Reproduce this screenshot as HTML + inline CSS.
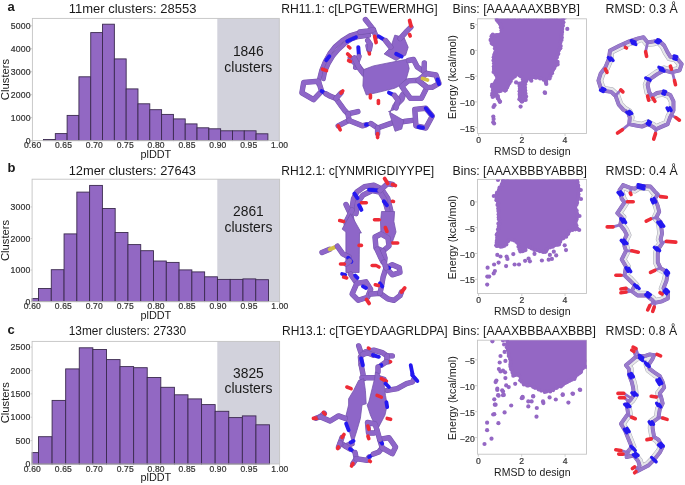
<!DOCTYPE html>
<html><head><meta charset="utf-8"><style>
html,body{margin:0;padding:0;background:#fff;width:685px;height:485px;overflow:hidden}
svg{display:block;font-family:"Liberation Sans", sans-serif;will-change:transform}
</style></head><body>
<svg width="685" height="485" viewBox="0 0 685 485" font-family="Liberation Sans, sans-serif"><rect x="217.30" y="18.40" width="62.00" height="122.20" fill="#d2d2dc" />
<rect x="43.50" y="139.50" width="11.81" height="1.10" fill="#9268c3" stroke="#3b2a4f" stroke-width="0.9" />
<rect x="55.31" y="133.60" width="11.81" height="7.00" fill="#9268c3" stroke="#3b2a4f" stroke-width="0.9" />
<rect x="67.12" y="115.40" width="11.81" height="25.20" fill="#9268c3" stroke="#3b2a4f" stroke-width="0.9" />
<rect x="78.93" y="76.80" width="11.81" height="63.80" fill="#9268c3" stroke="#3b2a4f" stroke-width="0.9" />
<rect x="90.74" y="32.60" width="11.81" height="108.00" fill="#9268c3" stroke="#3b2a4f" stroke-width="0.9" />
<rect x="102.55" y="24.20" width="11.81" height="116.40" fill="#9268c3" stroke="#3b2a4f" stroke-width="0.9" />
<rect x="114.36" y="58.90" width="11.81" height="81.70" fill="#9268c3" stroke="#3b2a4f" stroke-width="0.9" />
<rect x="126.17" y="88.90" width="11.81" height="51.70" fill="#9268c3" stroke="#3b2a4f" stroke-width="0.9" />
<rect x="137.98" y="103.80" width="11.81" height="36.80" fill="#9268c3" stroke="#3b2a4f" stroke-width="0.9" />
<rect x="149.79" y="109.70" width="11.81" height="30.90" fill="#9268c3" stroke="#3b2a4f" stroke-width="0.9" />
<rect x="161.60" y="114.40" width="11.81" height="26.20" fill="#9268c3" stroke="#3b2a4f" stroke-width="0.9" />
<rect x="173.41" y="118.90" width="11.81" height="21.70" fill="#9268c3" stroke="#3b2a4f" stroke-width="0.9" />
<rect x="185.22" y="123.90" width="11.81" height="16.70" fill="#9268c3" stroke="#3b2a4f" stroke-width="0.9" />
<rect x="197.03" y="127.80" width="11.81" height="12.80" fill="#9268c3" stroke="#3b2a4f" stroke-width="0.9" />
<rect x="208.84" y="128.80" width="11.81" height="11.80" fill="#9268c3" stroke="#3b2a4f" stroke-width="0.9" />
<rect x="220.65" y="130.80" width="11.81" height="9.80" fill="#9268c3" stroke="#3b2a4f" stroke-width="0.9" />
<rect x="232.46" y="130.80" width="11.81" height="9.80" fill="#9268c3" stroke="#3b2a4f" stroke-width="0.9" />
<rect x="244.27" y="130.80" width="11.81" height="9.80" fill="#9268c3" stroke="#3b2a4f" stroke-width="0.9" />
<rect x="256.08" y="133.80" width="11.81" height="6.80" fill="#9268c3" stroke="#3b2a4f" stroke-width="0.9" />
<rect x="32.40" y="18.40" width="246.90" height="122.20" fill="none" stroke="#c4c4c4" stroke-width="0.9"/>
<line x1="30.90" y1="140.60" x2="32.40" y2="140.60" stroke="#c4c4c4" stroke-width="0.8"/>
<text x="30.70" y="143.70" font-size="8.7" text-anchor="end" fill="#333333" letter-spacing="0.15" stroke="#333333" stroke-width="0.22">0</text>
<line x1="30.90" y1="117.64" x2="32.40" y2="117.64" stroke="#c4c4c4" stroke-width="0.8"/>
<text x="30.70" y="120.74" font-size="8.7" text-anchor="end" fill="#333333" letter-spacing="0.15" stroke="#333333" stroke-width="0.22">1000</text>
<line x1="30.90" y1="94.68" x2="32.40" y2="94.68" stroke="#c4c4c4" stroke-width="0.8"/>
<text x="30.70" y="97.78" font-size="8.7" text-anchor="end" fill="#333333" letter-spacing="0.15" stroke="#333333" stroke-width="0.22">2000</text>
<line x1="30.90" y1="71.72" x2="32.40" y2="71.72" stroke="#c4c4c4" stroke-width="0.8"/>
<text x="30.70" y="74.82" font-size="8.7" text-anchor="end" fill="#333333" letter-spacing="0.15" stroke="#333333" stroke-width="0.22">3000</text>
<line x1="30.90" y1="48.76" x2="32.40" y2="48.76" stroke="#c4c4c4" stroke-width="0.8"/>
<text x="30.70" y="51.86" font-size="8.7" text-anchor="end" fill="#333333" letter-spacing="0.15" stroke="#333333" stroke-width="0.22">4000</text>
<line x1="30.90" y1="25.80" x2="32.40" y2="25.80" stroke="#c4c4c4" stroke-width="0.8"/>
<text x="30.70" y="28.90" font-size="8.7" text-anchor="end" fill="#333333" letter-spacing="0.15" stroke="#333333" stroke-width="0.22">5000</text>
<line x1="32.40" y1="140.60" x2="32.40" y2="143.10" stroke="#c4c4c4" stroke-width="0.8"/>
<text x="32.70" y="148.30" font-size="8.5" text-anchor="middle" fill="#333333" letter-spacing="0.15" stroke="#333333" stroke-width="0.22">0.60</text>
<line x1="63.26" y1="140.60" x2="63.26" y2="143.10" stroke="#c4c4c4" stroke-width="0.8"/>
<text x="63.56" y="148.30" font-size="8.5" text-anchor="middle" fill="#333333" letter-spacing="0.15" stroke="#333333" stroke-width="0.22">0.65</text>
<line x1="94.12" y1="140.60" x2="94.12" y2="143.10" stroke="#c4c4c4" stroke-width="0.8"/>
<text x="94.42" y="148.30" font-size="8.5" text-anchor="middle" fill="#333333" letter-spacing="0.15" stroke="#333333" stroke-width="0.22">0.70</text>
<line x1="124.99" y1="140.60" x2="124.99" y2="143.10" stroke="#c4c4c4" stroke-width="0.8"/>
<text x="125.29" y="148.30" font-size="8.5" text-anchor="middle" fill="#333333" letter-spacing="0.15" stroke="#333333" stroke-width="0.22">0.75</text>
<line x1="155.85" y1="140.60" x2="155.85" y2="143.10" stroke="#c4c4c4" stroke-width="0.8"/>
<text x="156.15" y="148.30" font-size="8.5" text-anchor="middle" fill="#333333" letter-spacing="0.15" stroke="#333333" stroke-width="0.22">0.80</text>
<line x1="186.71" y1="140.60" x2="186.71" y2="143.10" stroke="#c4c4c4" stroke-width="0.8"/>
<text x="187.01" y="148.30" font-size="8.5" text-anchor="middle" fill="#333333" letter-spacing="0.15" stroke="#333333" stroke-width="0.22">0.85</text>
<line x1="217.58" y1="140.60" x2="217.58" y2="143.10" stroke="#c4c4c4" stroke-width="0.8"/>
<text x="217.88" y="148.30" font-size="8.5" text-anchor="middle" fill="#333333" letter-spacing="0.15" stroke="#333333" stroke-width="0.22">0.90</text>
<line x1="248.44" y1="140.60" x2="248.44" y2="143.10" stroke="#c4c4c4" stroke-width="0.8"/>
<text x="248.74" y="148.30" font-size="8.5" text-anchor="middle" fill="#333333" letter-spacing="0.15" stroke="#333333" stroke-width="0.22">0.95</text>
<line x1="279.30" y1="140.60" x2="279.30" y2="143.10" stroke="#c4c4c4" stroke-width="0.8"/>
<text x="279.60" y="148.30" font-size="8.5" text-anchor="middle" fill="#333333" letter-spacing="0.15" stroke="#333333" stroke-width="0.22">1.00</text>
<text x="155.85" y="157.70" font-size="10.6" text-anchor="middle" fill="#1a1a1a" textLength="30.8" lengthAdjust="spacingAndGlyphs" >plDDT</text>
<text x="8.60" y="79.50" font-size="11" text-anchor="middle" fill="#1a1a1a" transform="rotate(-90 8.60 79.50)" textLength="41.3" lengthAdjust="spacingAndGlyphs" >Clusters</text>
<text x="248.30" y="55.90" font-size="13.8" text-anchor="middle" fill="#1a1a1a" >1846</text>
<text x="248.30" y="71.50" font-size="13.9" text-anchor="middle" fill="#1a1a1a" >clusters</text>
<rect x="217.30" y="179.20" width="62.30" height="122.40" fill="#d2d2dc" />
<rect x="32.10" y="298.60" width="6.40" height="3.00" fill="#9268c3" stroke="#3b2a4f" stroke-width="0.9" />
<rect x="38.50" y="288.50" width="12.78" height="13.10" fill="#9268c3" stroke="#3b2a4f" stroke-width="0.9" />
<rect x="51.28" y="269.70" width="12.78" height="31.90" fill="#9268c3" stroke="#3b2a4f" stroke-width="0.9" />
<rect x="64.06" y="233.90" width="12.78" height="67.70" fill="#9268c3" stroke="#3b2a4f" stroke-width="0.9" />
<rect x="76.84" y="192.10" width="12.78" height="109.50" fill="#9268c3" stroke="#3b2a4f" stroke-width="0.9" />
<rect x="89.62" y="185.40" width="12.78" height="116.20" fill="#9268c3" stroke="#3b2a4f" stroke-width="0.9" />
<rect x="102.40" y="208.50" width="12.78" height="93.10" fill="#9268c3" stroke="#3b2a4f" stroke-width="0.9" />
<rect x="115.18" y="232.50" width="12.78" height="69.10" fill="#9268c3" stroke="#3b2a4f" stroke-width="0.9" />
<rect x="127.96" y="244.60" width="12.78" height="57.00" fill="#9268c3" stroke="#3b2a4f" stroke-width="0.9" />
<rect x="140.74" y="250.70" width="12.78" height="50.90" fill="#9268c3" stroke="#3b2a4f" stroke-width="0.9" />
<rect x="153.52" y="261.00" width="12.78" height="40.60" fill="#9268c3" stroke="#3b2a4f" stroke-width="0.9" />
<rect x="166.30" y="262.40" width="12.78" height="39.20" fill="#9268c3" stroke="#3b2a4f" stroke-width="0.9" />
<rect x="179.08" y="269.90" width="12.78" height="31.70" fill="#9268c3" stroke="#3b2a4f" stroke-width="0.9" />
<rect x="191.86" y="271.90" width="12.78" height="29.70" fill="#9268c3" stroke="#3b2a4f" stroke-width="0.9" />
<rect x="204.64" y="276.80" width="12.78" height="24.80" fill="#9268c3" stroke="#3b2a4f" stroke-width="0.9" />
<rect x="217.42" y="279.40" width="12.78" height="22.20" fill="#9268c3" stroke="#3b2a4f" stroke-width="0.9" />
<rect x="230.20" y="279.40" width="12.78" height="22.20" fill="#9268c3" stroke="#3b2a4f" stroke-width="0.9" />
<rect x="242.98" y="278.90" width="12.78" height="22.70" fill="#9268c3" stroke="#3b2a4f" stroke-width="0.9" />
<rect x="255.76" y="279.70" width="12.78" height="21.90" fill="#9268c3" stroke="#3b2a4f" stroke-width="0.9" />
<rect x="32.10" y="179.20" width="247.50" height="122.40" fill="none" stroke="#c4c4c4" stroke-width="0.9"/>
<line x1="30.60" y1="301.60" x2="32.10" y2="301.60" stroke="#c4c4c4" stroke-width="0.8"/>
<text x="30.40" y="304.70" font-size="8.7" text-anchor="end" fill="#333333" letter-spacing="0.15" stroke="#333333" stroke-width="0.22">0</text>
<line x1="30.60" y1="270.05" x2="32.10" y2="270.05" stroke="#c4c4c4" stroke-width="0.8"/>
<text x="30.40" y="273.15" font-size="8.7" text-anchor="end" fill="#333333" letter-spacing="0.15" stroke="#333333" stroke-width="0.22">1000</text>
<line x1="30.60" y1="238.50" x2="32.10" y2="238.50" stroke="#c4c4c4" stroke-width="0.8"/>
<text x="30.40" y="241.60" font-size="8.7" text-anchor="end" fill="#333333" letter-spacing="0.15" stroke="#333333" stroke-width="0.22">2000</text>
<line x1="30.60" y1="206.95" x2="32.10" y2="206.95" stroke="#c4c4c4" stroke-width="0.8"/>
<text x="30.40" y="210.05" font-size="8.7" text-anchor="end" fill="#333333" letter-spacing="0.15" stroke="#333333" stroke-width="0.22">3000</text>
<line x1="32.10" y1="301.60" x2="32.10" y2="304.10" stroke="#c4c4c4" stroke-width="0.8"/>
<text x="32.40" y="309.30" font-size="8.5" text-anchor="middle" fill="#333333" letter-spacing="0.15" stroke="#333333" stroke-width="0.22">0.60</text>
<line x1="63.04" y1="301.60" x2="63.04" y2="304.10" stroke="#c4c4c4" stroke-width="0.8"/>
<text x="63.34" y="309.30" font-size="8.5" text-anchor="middle" fill="#333333" letter-spacing="0.15" stroke="#333333" stroke-width="0.22">0.65</text>
<line x1="93.98" y1="301.60" x2="93.98" y2="304.10" stroke="#c4c4c4" stroke-width="0.8"/>
<text x="94.28" y="309.30" font-size="8.5" text-anchor="middle" fill="#333333" letter-spacing="0.15" stroke="#333333" stroke-width="0.22">0.70</text>
<line x1="124.91" y1="301.60" x2="124.91" y2="304.10" stroke="#c4c4c4" stroke-width="0.8"/>
<text x="125.21" y="309.30" font-size="8.5" text-anchor="middle" fill="#333333" letter-spacing="0.15" stroke="#333333" stroke-width="0.22">0.75</text>
<line x1="155.85" y1="301.60" x2="155.85" y2="304.10" stroke="#c4c4c4" stroke-width="0.8"/>
<text x="156.15" y="309.30" font-size="8.5" text-anchor="middle" fill="#333333" letter-spacing="0.15" stroke="#333333" stroke-width="0.22">0.80</text>
<line x1="186.79" y1="301.60" x2="186.79" y2="304.10" stroke="#c4c4c4" stroke-width="0.8"/>
<text x="187.09" y="309.30" font-size="8.5" text-anchor="middle" fill="#333333" letter-spacing="0.15" stroke="#333333" stroke-width="0.22">0.85</text>
<line x1="217.73" y1="301.60" x2="217.73" y2="304.10" stroke="#c4c4c4" stroke-width="0.8"/>
<text x="218.03" y="309.30" font-size="8.5" text-anchor="middle" fill="#333333" letter-spacing="0.15" stroke="#333333" stroke-width="0.22">0.90</text>
<line x1="248.66" y1="301.60" x2="248.66" y2="304.10" stroke="#c4c4c4" stroke-width="0.8"/>
<text x="248.96" y="309.30" font-size="8.5" text-anchor="middle" fill="#333333" letter-spacing="0.15" stroke="#333333" stroke-width="0.22">0.95</text>
<line x1="279.60" y1="301.60" x2="279.60" y2="304.10" stroke="#c4c4c4" stroke-width="0.8"/>
<text x="279.90" y="309.30" font-size="8.5" text-anchor="middle" fill="#333333" letter-spacing="0.15" stroke="#333333" stroke-width="0.22">1.00</text>
<text x="155.85" y="318.70" font-size="10.6" text-anchor="middle" fill="#1a1a1a" textLength="30.8" lengthAdjust="spacingAndGlyphs" >plDDT</text>
<text x="8.60" y="240.40" font-size="11" text-anchor="middle" fill="#1a1a1a" transform="rotate(-90 8.60 240.40)" textLength="41.3" lengthAdjust="spacingAndGlyphs" >Clusters</text>
<text x="248.45" y="216.10" font-size="13.8" text-anchor="middle" fill="#1a1a1a" >2861</text>
<text x="248.45" y="231.70" font-size="13.9" text-anchor="middle" fill="#1a1a1a" >clusters</text>
<rect x="217.30" y="341.40" width="62.30" height="122.60" fill="#d2d2dc" />
<rect x="32.10" y="452.60" width="6.40" height="11.40" fill="#9268c3" stroke="#3b2a4f" stroke-width="0.9" />
<rect x="38.50" y="436.70" width="13.59" height="27.30" fill="#9268c3" stroke="#3b2a4f" stroke-width="0.9" />
<rect x="52.09" y="400.40" width="13.59" height="63.60" fill="#9268c3" stroke="#3b2a4f" stroke-width="0.9" />
<rect x="65.68" y="368.90" width="13.59" height="95.10" fill="#9268c3" stroke="#3b2a4f" stroke-width="0.9" />
<rect x="79.27" y="347.80" width="13.59" height="116.20" fill="#9268c3" stroke="#3b2a4f" stroke-width="0.9" />
<rect x="92.86" y="349.50" width="13.59" height="114.50" fill="#9268c3" stroke="#3b2a4f" stroke-width="0.9" />
<rect x="106.45" y="359.60" width="13.59" height="104.40" fill="#9268c3" stroke="#3b2a4f" stroke-width="0.9" />
<rect x="120.04" y="366.60" width="13.59" height="97.40" fill="#9268c3" stroke="#3b2a4f" stroke-width="0.9" />
<rect x="133.63" y="367.70" width="13.59" height="96.30" fill="#9268c3" stroke="#3b2a4f" stroke-width="0.9" />
<rect x="147.22" y="377.50" width="13.59" height="86.50" fill="#9268c3" stroke="#3b2a4f" stroke-width="0.9" />
<rect x="160.81" y="387.30" width="13.59" height="76.70" fill="#9268c3" stroke="#3b2a4f" stroke-width="0.9" />
<rect x="174.40" y="394.80" width="13.59" height="69.20" fill="#9268c3" stroke="#3b2a4f" stroke-width="0.9" />
<rect x="187.99" y="398.90" width="13.59" height="65.10" fill="#9268c3" stroke="#3b2a4f" stroke-width="0.9" />
<rect x="201.58" y="404.60" width="13.59" height="59.40" fill="#9268c3" stroke="#3b2a4f" stroke-width="0.9" />
<rect x="215.17" y="411.30" width="13.59" height="52.70" fill="#9268c3" stroke="#3b2a4f" stroke-width="0.9" />
<rect x="228.76" y="417.60" width="13.59" height="46.40" fill="#9268c3" stroke="#3b2a4f" stroke-width="0.9" />
<rect x="242.35" y="415.90" width="13.59" height="48.10" fill="#9268c3" stroke="#3b2a4f" stroke-width="0.9" />
<rect x="255.94" y="424.80" width="13.59" height="39.20" fill="#9268c3" stroke="#3b2a4f" stroke-width="0.9" />
<rect x="32.10" y="341.40" width="247.50" height="122.60" fill="none" stroke="#c4c4c4" stroke-width="0.9"/>
<line x1="30.60" y1="464.00" x2="32.10" y2="464.00" stroke="#c4c4c4" stroke-width="0.8"/>
<text x="30.40" y="467.10" font-size="8.7" text-anchor="end" fill="#333333" letter-spacing="0.15" stroke="#333333" stroke-width="0.22">0</text>
<line x1="30.60" y1="440.62" x2="32.10" y2="440.62" stroke="#c4c4c4" stroke-width="0.8"/>
<text x="30.40" y="443.72" font-size="8.7" text-anchor="end" fill="#333333" letter-spacing="0.15" stroke="#333333" stroke-width="0.22">500</text>
<line x1="30.60" y1="417.24" x2="32.10" y2="417.24" stroke="#c4c4c4" stroke-width="0.8"/>
<text x="30.40" y="420.34" font-size="8.7" text-anchor="end" fill="#333333" letter-spacing="0.15" stroke="#333333" stroke-width="0.22">1000</text>
<line x1="30.60" y1="393.86" x2="32.10" y2="393.86" stroke="#c4c4c4" stroke-width="0.8"/>
<text x="30.40" y="396.96" font-size="8.7" text-anchor="end" fill="#333333" letter-spacing="0.15" stroke="#333333" stroke-width="0.22">1500</text>
<line x1="30.60" y1="370.48" x2="32.10" y2="370.48" stroke="#c4c4c4" stroke-width="0.8"/>
<text x="30.40" y="373.58" font-size="8.7" text-anchor="end" fill="#333333" letter-spacing="0.15" stroke="#333333" stroke-width="0.22">2000</text>
<line x1="30.60" y1="347.10" x2="32.10" y2="347.10" stroke="#c4c4c4" stroke-width="0.8"/>
<text x="30.40" y="350.20" font-size="8.7" text-anchor="end" fill="#333333" letter-spacing="0.15" stroke="#333333" stroke-width="0.22">2500</text>
<line x1="32.10" y1="464.00" x2="32.10" y2="466.50" stroke="#c4c4c4" stroke-width="0.8"/>
<text x="32.40" y="471.70" font-size="8.5" text-anchor="middle" fill="#333333" letter-spacing="0.15" stroke="#333333" stroke-width="0.22">0.60</text>
<line x1="63.04" y1="464.00" x2="63.04" y2="466.50" stroke="#c4c4c4" stroke-width="0.8"/>
<text x="63.34" y="471.70" font-size="8.5" text-anchor="middle" fill="#333333" letter-spacing="0.15" stroke="#333333" stroke-width="0.22">0.65</text>
<line x1="93.98" y1="464.00" x2="93.98" y2="466.50" stroke="#c4c4c4" stroke-width="0.8"/>
<text x="94.28" y="471.70" font-size="8.5" text-anchor="middle" fill="#333333" letter-spacing="0.15" stroke="#333333" stroke-width="0.22">0.70</text>
<line x1="124.91" y1="464.00" x2="124.91" y2="466.50" stroke="#c4c4c4" stroke-width="0.8"/>
<text x="125.21" y="471.70" font-size="8.5" text-anchor="middle" fill="#333333" letter-spacing="0.15" stroke="#333333" stroke-width="0.22">0.75</text>
<line x1="155.85" y1="464.00" x2="155.85" y2="466.50" stroke="#c4c4c4" stroke-width="0.8"/>
<text x="156.15" y="471.70" font-size="8.5" text-anchor="middle" fill="#333333" letter-spacing="0.15" stroke="#333333" stroke-width="0.22">0.80</text>
<line x1="186.79" y1="464.00" x2="186.79" y2="466.50" stroke="#c4c4c4" stroke-width="0.8"/>
<text x="187.09" y="471.70" font-size="8.5" text-anchor="middle" fill="#333333" letter-spacing="0.15" stroke="#333333" stroke-width="0.22">0.85</text>
<line x1="217.73" y1="464.00" x2="217.73" y2="466.50" stroke="#c4c4c4" stroke-width="0.8"/>
<text x="218.03" y="471.70" font-size="8.5" text-anchor="middle" fill="#333333" letter-spacing="0.15" stroke="#333333" stroke-width="0.22">0.90</text>
<line x1="248.66" y1="464.00" x2="248.66" y2="466.50" stroke="#c4c4c4" stroke-width="0.8"/>
<text x="248.96" y="471.70" font-size="8.5" text-anchor="middle" fill="#333333" letter-spacing="0.15" stroke="#333333" stroke-width="0.22">0.95</text>
<line x1="279.60" y1="464.00" x2="279.60" y2="466.50" stroke="#c4c4c4" stroke-width="0.8"/>
<text x="279.90" y="471.70" font-size="8.5" text-anchor="middle" fill="#333333" letter-spacing="0.15" stroke="#333333" stroke-width="0.22">1.00</text>
<text x="155.85" y="481.10" font-size="10.6" text-anchor="middle" fill="#1a1a1a" textLength="30.8" lengthAdjust="spacingAndGlyphs" >plDDT</text>
<text x="8.60" y="402.70" font-size="11" text-anchor="middle" fill="#1a1a1a" transform="rotate(-90 8.60 402.70)" textLength="41.3" lengthAdjust="spacingAndGlyphs" >Clusters</text>
<text x="248.45" y="377.70" font-size="13.8" text-anchor="middle" fill="#1a1a1a" >3825</text>
<text x="248.45" y="393.30" font-size="13.9" text-anchor="middle" fill="#1a1a1a" >clusters</text>
<text x="68.70" y="12.80" font-size="12" text-anchor="start" fill="#1a1a1a" textLength="127.7" lengthAdjust="spacingAndGlyphs" >11mer clusters: 28553</text>
<text x="281.20" y="12.80" font-size="12" text-anchor="start" fill="#1a1a1a" textLength="156.39999999999998" lengthAdjust="spacingAndGlyphs" >RH11.1: c[LPGTEWERMHG]</text>
<text x="452.50" y="12.80" font-size="12" text-anchor="start" fill="#1a1a1a" textLength="127.4" lengthAdjust="spacingAndGlyphs" >Bins: [AAAAAAXBBYB]</text>
<text x="605.60" y="12.80" font-size="12" text-anchor="start" fill="#1a1a1a" textLength="72.3" lengthAdjust="spacingAndGlyphs" >RMSD: 0.3 Å</text>
<text x="68.70" y="174.80" font-size="12" text-anchor="start" fill="#1a1a1a" textLength="127.3" lengthAdjust="spacingAndGlyphs" >12mer clusters: 27643</text>
<text x="281.20" y="174.80" font-size="12" text-anchor="start" fill="#1a1a1a" textLength="152.89999999999998" lengthAdjust="spacingAndGlyphs" >RH12.1: c[YNMRIGDIYYPE]</text>
<text x="452.50" y="174.80" font-size="12" text-anchor="start" fill="#1a1a1a" textLength="134.5" lengthAdjust="spacingAndGlyphs" >Bins: [AAAXBBBYABBB]</text>
<text x="605.60" y="174.80" font-size="12" text-anchor="start" fill="#1a1a1a" textLength="72.3" lengthAdjust="spacingAndGlyphs" >RMSD: 0.4 Å</text>
<text x="68.70" y="334.70" font-size="12" text-anchor="start" fill="#1a1a1a" textLength="117.5" lengthAdjust="spacingAndGlyphs" >13mer clusters: 27330</text>
<text x="282.00" y="334.70" font-size="12" text-anchor="start" fill="#1a1a1a" textLength="165.7" lengthAdjust="spacingAndGlyphs" >RH13.1: c[TGEYDAAGRLDPA]</text>
<text x="452.50" y="334.70" font-size="12" text-anchor="start" fill="#1a1a1a" textLength="143.39999999999998" lengthAdjust="spacingAndGlyphs" >Bins: [AAAXBBBAAXBBB]</text>
<text x="605.60" y="334.70" font-size="12" text-anchor="start" fill="#1a1a1a" textLength="71.5" lengthAdjust="spacingAndGlyphs" >RMSD: 0.8 Å</text>
<text x="7.60" y="10.70" font-size="13" text-anchor="start" fill="#1a1a1a" font-weight="bold" >a</text>
<text x="7.60" y="171.90" font-size="13" text-anchor="start" fill="#1a1a1a" font-weight="bold" >b</text>
<text x="7.60" y="334.00" font-size="13" text-anchor="start" fill="#1a1a1a" font-weight="bold" >c</text>
<rect x="477.50" y="18.80" width="109.00" height="114.70" fill="none" stroke="#c4c4c4" stroke-width="0.9"/>
<line x1="475.00" y1="24.70" x2="477.50" y2="24.70" stroke="#c4c4c4" stroke-width="0.8"/>
<text x="474.90" y="28.80" font-size="8.6" text-anchor="end" fill="#333333" letter-spacing="0.15" stroke="#333333" stroke-width="0.22">5</text>
<line x1="475.00" y1="50.40" x2="477.50" y2="50.40" stroke="#c4c4c4" stroke-width="0.8"/>
<text x="474.90" y="54.50" font-size="8.6" text-anchor="end" fill="#333333" letter-spacing="0.15" stroke="#333333" stroke-width="0.22">0</text>
<line x1="475.00" y1="76.10" x2="477.50" y2="76.10" stroke="#c4c4c4" stroke-width="0.8"/>
<text x="474.90" y="80.20" font-size="8.6" text-anchor="end" fill="#333333" letter-spacing="0.15" stroke="#333333" stroke-width="0.22">−5</text>
<line x1="475.00" y1="101.90" x2="477.50" y2="101.90" stroke="#c4c4c4" stroke-width="0.8"/>
<text x="474.90" y="106.00" font-size="8.6" text-anchor="end" fill="#333333" letter-spacing="0.15" stroke="#333333" stroke-width="0.22">−10</text>
<line x1="475.00" y1="127.70" x2="477.50" y2="127.70" stroke="#c4c4c4" stroke-width="0.8"/>
<text x="474.90" y="131.80" font-size="8.6" text-anchor="end" fill="#333333" letter-spacing="0.15" stroke="#333333" stroke-width="0.22">−15</text>
<line x1="478.60" y1="133.50" x2="478.60" y2="136.00" stroke="#c4c4c4" stroke-width="0.8"/>
<text x="478.60" y="143.20" font-size="8.6" text-anchor="middle" fill="#333333" stroke="#333333" stroke-width="0.22">0</text>
<line x1="521.80" y1="133.50" x2="521.80" y2="136.00" stroke="#c4c4c4" stroke-width="0.8"/>
<text x="521.80" y="143.20" font-size="8.6" text-anchor="middle" fill="#333333" stroke="#333333" stroke-width="0.22">2</text>
<line x1="565.00" y1="133.50" x2="565.00" y2="136.00" stroke="#c4c4c4" stroke-width="0.8"/>
<text x="565.00" y="143.20" font-size="8.6" text-anchor="middle" fill="#333333" stroke="#333333" stroke-width="0.22">4</text>
<text x="532.30" y="154.90" font-size="10.1" text-anchor="middle" fill="#1a1a1a" textLength="76.5" lengthAdjust="spacingAndGlyphs" >RMSD to design</text>
<text x="456.50" y="77.15" font-size="10.2" text-anchor="middle" fill="#1a1a1a" transform="rotate(-90 456.50 77.15)" textLength="84" lengthAdjust="spacingAndGlyphs" >Energy (kcal/mol)</text>
<rect x="477.50" y="179.40" width="109.00" height="114.10" fill="none" stroke="#c4c4c4" stroke-width="0.9"/>
<line x1="475.00" y1="201.90" x2="477.50" y2="201.90" stroke="#c4c4c4" stroke-width="0.8"/>
<text x="474.90" y="206.00" font-size="8.6" text-anchor="end" fill="#333333" letter-spacing="0.15" stroke="#333333" stroke-width="0.22">0</text>
<line x1="475.00" y1="227.70" x2="477.50" y2="227.70" stroke="#c4c4c4" stroke-width="0.8"/>
<text x="474.90" y="231.80" font-size="8.6" text-anchor="end" fill="#333333" letter-spacing="0.15" stroke="#333333" stroke-width="0.22">−5</text>
<line x1="475.00" y1="253.50" x2="477.50" y2="253.50" stroke="#c4c4c4" stroke-width="0.8"/>
<text x="474.90" y="257.60" font-size="8.6" text-anchor="end" fill="#333333" letter-spacing="0.15" stroke="#333333" stroke-width="0.22">−10</text>
<line x1="475.00" y1="279.30" x2="477.50" y2="279.30" stroke="#c4c4c4" stroke-width="0.8"/>
<text x="474.90" y="283.40" font-size="8.6" text-anchor="end" fill="#333333" letter-spacing="0.15" stroke="#333333" stroke-width="0.22">−15</text>
<line x1="478.60" y1="293.50" x2="478.60" y2="296.00" stroke="#c4c4c4" stroke-width="0.8"/>
<text x="478.60" y="303.20" font-size="8.6" text-anchor="middle" fill="#333333" stroke="#333333" stroke-width="0.22">0</text>
<line x1="521.80" y1="293.50" x2="521.80" y2="296.00" stroke="#c4c4c4" stroke-width="0.8"/>
<text x="521.80" y="303.20" font-size="8.6" text-anchor="middle" fill="#333333" stroke="#333333" stroke-width="0.22">2</text>
<line x1="565.00" y1="293.50" x2="565.00" y2="296.00" stroke="#c4c4c4" stroke-width="0.8"/>
<text x="565.00" y="303.20" font-size="8.6" text-anchor="middle" fill="#333333" stroke="#333333" stroke-width="0.22">4</text>
<text x="532.30" y="314.90" font-size="10.1" text-anchor="middle" fill="#1a1a1a" textLength="76.5" lengthAdjust="spacingAndGlyphs" >RMSD to design</text>
<text x="456.50" y="237.45" font-size="10.2" text-anchor="middle" fill="#1a1a1a" transform="rotate(-90 456.50 237.45)" textLength="84" lengthAdjust="spacingAndGlyphs" >Energy (kcal/mol)</text>
<rect x="477.50" y="340.20" width="109.00" height="114.00" fill="none" stroke="#c4c4c4" stroke-width="0.9"/>
<line x1="475.00" y1="359.80" x2="477.50" y2="359.80" stroke="#c4c4c4" stroke-width="0.8"/>
<text x="474.90" y="363.90" font-size="8.6" text-anchor="end" fill="#333333" letter-spacing="0.15" stroke="#333333" stroke-width="0.22">−5</text>
<line x1="475.00" y1="385.70" x2="477.50" y2="385.70" stroke="#c4c4c4" stroke-width="0.8"/>
<text x="474.90" y="389.80" font-size="8.6" text-anchor="end" fill="#333333" letter-spacing="0.15" stroke="#333333" stroke-width="0.22">−10</text>
<line x1="475.00" y1="411.70" x2="477.50" y2="411.70" stroke="#c4c4c4" stroke-width="0.8"/>
<text x="474.90" y="415.80" font-size="8.6" text-anchor="end" fill="#333333" letter-spacing="0.15" stroke="#333333" stroke-width="0.22">−15</text>
<line x1="475.00" y1="437.60" x2="477.50" y2="437.60" stroke="#c4c4c4" stroke-width="0.8"/>
<text x="474.90" y="441.70" font-size="8.6" text-anchor="end" fill="#333333" letter-spacing="0.15" stroke="#333333" stroke-width="0.22">−20</text>
<line x1="478.30" y1="454.20" x2="478.30" y2="456.70" stroke="#c4c4c4" stroke-width="0.8"/>
<text x="478.30" y="463.90" font-size="8.6" text-anchor="middle" fill="#333333" stroke="#333333" stroke-width="0.22">0</text>
<line x1="521.70" y1="454.20" x2="521.70" y2="456.70" stroke="#c4c4c4" stroke-width="0.8"/>
<text x="521.70" y="463.90" font-size="8.6" text-anchor="middle" fill="#333333" stroke="#333333" stroke-width="0.22">2</text>
<line x1="565.10" y1="454.20" x2="565.10" y2="456.70" stroke="#c4c4c4" stroke-width="0.8"/>
<text x="565.10" y="463.90" font-size="8.6" text-anchor="middle" fill="#333333" stroke="#333333" stroke-width="0.22">4</text>
<text x="532.30" y="475.60" font-size="10.1" text-anchor="middle" fill="#1a1a1a" textLength="76.5" lengthAdjust="spacingAndGlyphs" >RMSD to design</text>
<text x="456.50" y="398.20" font-size="10.2" text-anchor="middle" fill="#1a1a1a" transform="rotate(-90 456.50 398.20)" textLength="84" lengthAdjust="spacingAndGlyphs" >Energy (kcal/mol)</text>
<polyline points="372.0,31.5 360.0,32.5 350.0,35.5 342.0,40.5 335.0,46.5 329.5,53.5 325.0,61.5 321.5,70.0 319.5,78.0 318.5,84.0" fill="none" stroke="#7554ad" stroke-width="4.5" stroke-linecap="round" stroke-linejoin="round"/><polyline points="372.0,31.5 360.0,32.5 350.0,35.5 342.0,40.5 335.0,46.5 329.5,53.5 325.0,61.5 321.5,70.0 319.5,78.0 318.5,84.0" fill="none" stroke="#8e66c8" stroke-width="3.6" stroke-linecap="round" stroke-linejoin="round"/><polyline points="369.0,35.5 358.0,37.0 351.0,39.5 344.5,44.0 338.5,49.5 333.0,56.0 328.5,63.5 325.0,71.5 323.5,79.0" fill="none" stroke="#7554ad" stroke-width="4.5" stroke-linecap="round" stroke-linejoin="round"/><polyline points="369.0,35.5 358.0,37.0 351.0,39.5 344.5,44.0 338.5,49.5 333.0,56.0 328.5,63.5 325.0,71.5 323.5,79.0" fill="none" stroke="#8e66c8" stroke-width="3.6" stroke-linecap="round" stroke-linejoin="round"/><polyline points="347.2,41.2 356.0,37.3" fill="none" stroke="#2418f0" stroke-width="3.8" stroke-linecap="round" stroke-linejoin="round"/><polyline points="326.2,60.2 329.4,56.2" fill="none" stroke="#2418f0" stroke-width="3.8" stroke-linecap="round" stroke-linejoin="round"/><polyline points="322.5,69.2 326.5,70.6" fill="none" stroke="#ee2b36" stroke-width="3.6" stroke-linecap="round" stroke-linejoin="round"/><polyline points="348.3,46.5 350.0,48.0" fill="none" stroke="#ee2b36" stroke-width="3.4" stroke-linecap="round" stroke-linejoin="round"/><polyline points="358.3,47.2 359.0,56.5" fill="none" stroke="#2418f0" stroke-width="4.0" stroke-linecap="round" stroke-linejoin="round"/><polyline points="359.0,56.5 357.0,61.9 355.7,67.3" fill="none" stroke="#7554ad" stroke-width="5.4" stroke-linecap="round" stroke-linejoin="round"/><polyline points="359.0,56.5 357.0,61.9 355.7,67.3" fill="none" stroke="#8e66c8" stroke-width="4.5" stroke-linecap="round" stroke-linejoin="round"/><polyline points="350.3,57.9 353.0,61.2 358.3,65.9 362.4,71.3 365.0,74.0" fill="none" stroke="#7554ad" stroke-width="5.4" stroke-linecap="round" stroke-linejoin="round"/><polyline points="350.3,57.9 353.0,61.2 358.3,65.9 362.4,71.3 365.0,74.0" fill="none" stroke="#8e66c8" stroke-width="4.5" stroke-linecap="round" stroke-linejoin="round"/><polyline points="347.6,53.9 350.3,56.5" fill="none" stroke="#ee2b36" stroke-width="3.6" stroke-linecap="round" stroke-linejoin="round"/><polyline points="348.6,60.6 350.5,61.5" fill="none" stroke="#ee2b36" stroke-width="3.6" stroke-linecap="round" stroke-linejoin="round"/><polyline points="354.3,57.9 359.6,68.6 363.7,73.9 370.4,79.3" fill="none" stroke="#7554ad" stroke-width="5.4" stroke-linecap="round" stroke-linejoin="round"/><polyline points="354.3,57.9 359.6,68.6 363.7,73.9 370.4,79.3" fill="none" stroke="#8e66c8" stroke-width="4.5" stroke-linecap="round" stroke-linejoin="round"/><polygon points="303.7,82.4 318.5,81.2 321.6,91.1 313.6,99.7 301.9,92.9" fill="none" stroke="#7554ad" stroke-width="5.4" stroke-linejoin="round"/><polygon points="303.7,82.4 318.5,81.2 321.6,91.1 313.6,99.7 301.9,92.9" fill="none" stroke="#8e66c8" stroke-width="4.5" stroke-linejoin="round"/><polyline points="321.6,91.1 326.0,93.8" fill="none" stroke="#2418f0" stroke-width="4.0" stroke-linecap="round" stroke-linejoin="round"/><polyline points="326.0,93.8 330.5,96.3 336.0,98.5 341.5,106.1 344.7,110.5 348.0,113.8 357.9,111.6" fill="none" stroke="#7554ad" stroke-width="5.4" stroke-linecap="round" stroke-linejoin="round"/><polyline points="326.0,93.8 330.5,96.3 336.0,98.5 341.5,106.1 344.7,110.5 348.0,113.8 357.9,111.6" fill="none" stroke="#8e66c8" stroke-width="4.5" stroke-linecap="round" stroke-linejoin="round"/><polyline points="336.0,98.5 341.0,93.0" fill="none" stroke="#7554ad" stroke-width="5.4" stroke-linecap="round" stroke-linejoin="round"/><polyline points="336.0,98.5 341.0,93.0" fill="none" stroke="#8e66c8" stroke-width="4.5" stroke-linecap="round" stroke-linejoin="round"/><polyline points="341.0,93.0 342.8,90.8" fill="none" stroke="#ee2b36" stroke-width="3.6" stroke-linecap="round" stroke-linejoin="round"/><polyline points="348.0,113.8 349.1,120.4 338.2,125.8" fill="none" stroke="#7554ad" stroke-width="5.4" stroke-linecap="round" stroke-linejoin="round"/><polyline points="348.0,113.8 349.1,120.4 338.2,125.8" fill="none" stroke="#8e66c8" stroke-width="4.5" stroke-linecap="round" stroke-linejoin="round"/><polyline points="338.2,125.8 340.2,129.8" fill="none" stroke="#ee2b36" stroke-width="3.6" stroke-linecap="round" stroke-linejoin="round"/><polyline points="349.1,120.4 362.3,125.8 366.0,124.8" fill="none" stroke="#7554ad" stroke-width="5.4" stroke-linecap="round" stroke-linejoin="round"/><polyline points="349.1,120.4 362.3,125.8 366.0,124.8" fill="none" stroke="#8e66c8" stroke-width="4.5" stroke-linecap="round" stroke-linejoin="round"/><polyline points="366.0,124.8 371.0,123.6" fill="none" stroke="#2418f0" stroke-width="4.0" stroke-linecap="round" stroke-linejoin="round"/><polyline points="371.0,123.6 377.6,128.0 392.9,122.6 403.9,121.5 412.6,120.4" fill="none" stroke="#7554ad" stroke-width="5.4" stroke-linecap="round" stroke-linejoin="round"/><polyline points="371.0,123.6 377.6,128.0 392.9,122.6 403.9,121.5 412.6,120.4" fill="none" stroke="#8e66c8" stroke-width="4.5" stroke-linecap="round" stroke-linejoin="round"/><polyline points="377.6,128.0 377.6,133.5" fill="none" stroke="#7554ad" stroke-width="5.4" stroke-linecap="round" stroke-linejoin="round"/><polyline points="377.6,128.0 377.6,133.5" fill="none" stroke="#8e66c8" stroke-width="4.5" stroke-linecap="round" stroke-linejoin="round"/><polyline points="377.6,133.5 377.6,137.6" fill="none" stroke="#ee2b36" stroke-width="3.6" stroke-linecap="round" stroke-linejoin="round"/><polygon points="414.8,109.4 425.8,108.3 432.3,116.0 425.8,128.0 415.9,125.8" fill="none" stroke="#7554ad" stroke-width="5.4" stroke-linejoin="round"/><polygon points="414.8,109.4 425.8,108.3 432.3,116.0 425.8,128.0 415.9,125.8" fill="none" stroke="#8e66c8" stroke-width="4.5" stroke-linejoin="round"/><polyline points="425.8,108.3 432.3,116.0" fill="none" stroke="#2418f0" stroke-width="4.0" stroke-linecap="round" stroke-linejoin="round"/><polyline points="418.5,127.0 423.0,127.8" fill="none" stroke="#2418f0" stroke-width="4.0" stroke-linecap="round" stroke-linejoin="round"/><polygon points="388.5,111.6 395.1,109.4 403.9,100.7 406.0,94.1 401.7,91.9 397.3,98.5 392.9,105.0 389.6,113.8 395.1,131.3 401.7,129.1 403.9,120.4" fill="#8e66c8" stroke="#7554ad" stroke-width="0.8" stroke-linejoin="round"/><polygon points="363.7,69.6 373.4,65.9 386.8,63.2 400.2,60.6 406.9,59.2 409.2,68.6 406.0,80.0 400.0,85.5 394.5,88.3 378.4,92.3 366.3,95.0 362.9,86.0" fill="#8e66c8" stroke="#7554ad" stroke-width="0.8" stroke-linejoin="round"/><polygon points="384.1,53.9 390.8,47.2 394.8,35.1 404.2,37.8 408.2,47.2 405.6,55.2 400.2,57.9 396.2,60.6" fill="#8e66c8" stroke="#7554ad" stroke-width="0.8" stroke-linejoin="round"/><polyline points="396.2,53.9 401.5,56.5" fill="none" stroke="#2418f0" stroke-width="4.0" stroke-linecap="round" stroke-linejoin="round"/><polyline points="400.2,38.5 406.9,31.1 410.9,27.1" fill="none" stroke="#7554ad" stroke-width="5.4" stroke-linecap="round" stroke-linejoin="round"/><polyline points="400.2,38.5 406.9,31.1 410.9,27.1" fill="none" stroke="#8e66c8" stroke-width="4.5" stroke-linecap="round" stroke-linejoin="round"/><polyline points="409.6,20.5 411.0,26.0" fill="none" stroke="#ee2b36" stroke-width="3.8" stroke-linecap="round" stroke-linejoin="round"/><polyline points="409.6,34.5 410.2,36.0" fill="none" stroke="#ee2b36" stroke-width="3.6" stroke-linecap="round" stroke-linejoin="round"/><polyline points="365.4,19.5 373.4,29.7 376.1,36.4" fill="none" stroke="#7554ad" stroke-width="5.4" stroke-linecap="round" stroke-linejoin="round"/><polyline points="365.4,19.5 373.4,29.7 376.1,36.4" fill="none" stroke="#8e66c8" stroke-width="4.5" stroke-linecap="round" stroke-linejoin="round"/><polyline points="374.7,36.4 376.1,42.5" fill="none" stroke="#ee2b36" stroke-width="3.8" stroke-linecap="round" stroke-linejoin="round"/><polyline points="360.0,32.0 368.0,31.0 373.4,29.7" fill="none" stroke="#7554ad" stroke-width="5.4" stroke-linecap="round" stroke-linejoin="round"/><polyline points="360.0,32.0 368.0,31.0 373.4,29.7" fill="none" stroke="#8e66c8" stroke-width="4.5" stroke-linecap="round" stroke-linejoin="round"/><polyline points="368.0,45.8 369.0,50.0" fill="none" stroke="#7554ad" stroke-width="5.4" stroke-linecap="round" stroke-linejoin="round"/><polyline points="368.0,45.8 369.0,50.0" fill="none" stroke="#8e66c8" stroke-width="4.5" stroke-linecap="round" stroke-linejoin="round"/><polyline points="369.0,50.0 369.4,53.9" fill="none" stroke="#ee2b36" stroke-width="3.6" stroke-linecap="round" stroke-linejoin="round"/><polyline points="378.8,36.4 385.5,40.5" fill="none" stroke="#2418f0" stroke-width="4.0" stroke-linecap="round" stroke-linejoin="round"/><polyline points="385.5,40.5 390.8,47.2" fill="none" stroke="#7554ad" stroke-width="5.4" stroke-linecap="round" stroke-linejoin="round"/><polyline points="385.5,40.5 390.8,47.2" fill="none" stroke="#8e66c8" stroke-width="4.5" stroke-linecap="round" stroke-linejoin="round"/><polyline points="367.7,40.4 370.4,44.5 369.5,49.0" fill="none" stroke="#7554ad" stroke-width="5.4" stroke-linecap="round" stroke-linejoin="round"/><polyline points="367.7,40.4 370.4,44.5 369.5,49.0" fill="none" stroke="#8e66c8" stroke-width="4.5" stroke-linecap="round" stroke-linejoin="round"/><polyline points="408.5,60.5 413.5,59.5 417.3,66.9 424.0,71.5 426.5,73.5" fill="none" stroke="#7554ad" stroke-width="5.4" stroke-linecap="round" stroke-linejoin="round"/><polyline points="408.5,60.5 413.5,59.5 417.3,66.9 424.0,71.5 426.5,73.5" fill="none" stroke="#8e66c8" stroke-width="4.5" stroke-linecap="round" stroke-linejoin="round"/><polyline points="424.0,71.5 424.3,62.9" fill="none" stroke="#7554ad" stroke-width="5.4" stroke-linecap="round" stroke-linejoin="round"/><polyline points="424.0,71.5 424.3,62.9" fill="none" stroke="#8e66c8" stroke-width="4.5" stroke-linecap="round" stroke-linejoin="round"/><polygon points="401.7,86.3 408.2,80.9 418.2,80.3 426.9,87.4 421.4,98.4 410.4,98.4" fill="none" stroke="#7554ad" stroke-width="5.4" stroke-linejoin="round"/><polygon points="401.7,86.3 408.2,80.9 418.2,80.3 426.9,87.4 421.4,98.4 410.4,98.4" fill="none" stroke="#8e66c8" stroke-width="4.5" stroke-linejoin="round"/><polygon points="418.2,80.3 426.5,73.5 436.0,75.0 439.0,83.5 432.0,87.4 426.9,87.4" fill="none" stroke="#7554ad" stroke-width="5.4" stroke-linejoin="round"/><polygon points="418.2,80.3 426.5,73.5 436.0,75.0 439.0,83.5 432.0,87.4 426.9,87.4" fill="none" stroke="#8e66c8" stroke-width="4.5" stroke-linejoin="round"/><polyline points="437.5,79.5 439.0,84.0" fill="none" stroke="#2418f0" stroke-width="4.0" stroke-linecap="round" stroke-linejoin="round"/><polyline points="422.5,78.5 427.5,80.0" fill="none" stroke="#d4bf45" stroke-width="3.8" stroke-linecap="round" stroke-linejoin="round"/><polyline points="370.4,95.0 370.4,98.0" fill="none" stroke="#ee2b36" stroke-width="3.6" stroke-linecap="round" stroke-linejoin="round"/><polyline points="378.4,100.5 378.4,103.4" fill="none" stroke="#ee2b36" stroke-width="3.6" stroke-linecap="round" stroke-linejoin="round"/><polyline points="389.0,92.7 394.5,95.4" fill="none" stroke="#2418f0" stroke-width="4.0" stroke-linecap="round" stroke-linejoin="round"/><polyline points="394.5,95.4 398.0,100.0 396.0,108.0" fill="none" stroke="#7554ad" stroke-width="5.4" stroke-linecap="round" stroke-linejoin="round"/><polyline points="394.5,95.4 398.0,100.0 396.0,108.0" fill="none" stroke="#8e66c8" stroke-width="4.5" stroke-linecap="round" stroke-linejoin="round"/>
<polyline points="352.1,207.9 353.5,199.0 356.8,192.0 364.5,186.6 373.8,185.1 381.5,188.9 387.7,198.2 390.8,210.6" fill="none" stroke="#7554ad" stroke-width="5.4" stroke-linecap="round" stroke-linejoin="round"/><polyline points="352.1,207.9 353.5,199.0 356.8,192.0 364.5,186.6 373.8,185.1 381.5,188.9 387.7,198.2 390.8,210.6" fill="none" stroke="#8e66c8" stroke-width="4.5" stroke-linecap="round" stroke-linejoin="round"/><polyline points="356.0,213.7 357.5,202.8 362.9,195.1 372.2,190.5 379.9,192.0 384.6,199.7 387.7,210.6" fill="none" stroke="#7554ad" stroke-width="5.4" stroke-linecap="round" stroke-linejoin="round"/><polyline points="356.0,213.7 357.5,202.8 362.9,195.1 372.2,190.5 379.9,192.0 384.6,199.7 387.7,210.6" fill="none" stroke="#8e66c8" stroke-width="4.5" stroke-linecap="round" stroke-linejoin="round"/><polyline points="369.1,189.7 378.4,190.5" fill="none" stroke="#2418f0" stroke-width="4.0" stroke-linecap="round" stroke-linejoin="round"/><polyline points="354.4,193.6 357.5,198.2" fill="none" stroke="#2418f0" stroke-width="4.0" stroke-linecap="round" stroke-linejoin="round"/><polyline points="359.1,205.2 361.4,209.8" fill="none" stroke="#2418f0" stroke-width="4.0" stroke-linecap="round" stroke-linejoin="round"/><polyline points="383.8,201.3 386.9,205.2" fill="none" stroke="#2418f0" stroke-width="4.0" stroke-linecap="round" stroke-linejoin="round"/><polyline points="380.0,190.5 387.7,183.5 392.5,184.5" fill="none" stroke="#7554ad" stroke-width="5.4" stroke-linecap="round" stroke-linejoin="round"/><polyline points="380.0,190.5 387.7,183.5 392.5,184.5" fill="none" stroke="#8e66c8" stroke-width="4.5" stroke-linecap="round" stroke-linejoin="round"/><polyline points="392.5,184.5 395.4,185.5" fill="none" stroke="#ee2b36" stroke-width="3.8" stroke-linecap="round" stroke-linejoin="round"/><polyline points="387.7,183.5 384.6,178.6" fill="none" stroke="#ee2b36" stroke-width="3.8" stroke-linecap="round" stroke-linejoin="round"/><polyline points="361.4,202.8 366.3,202.8" fill="none" stroke="#ee2b36" stroke-width="3.6" stroke-linecap="round" stroke-linejoin="round"/><polyline points="392.3,201.3 393.5,201.5" fill="none" stroke="#ee2b36" stroke-width="3.6" stroke-linecap="round" stroke-linejoin="round"/><polyline points="346.0,204.5 351.0,215.0 352.0,222.0" fill="none" stroke="#7554ad" stroke-width="5.4" stroke-linecap="round" stroke-linejoin="round"/><polyline points="346.0,204.5 351.0,215.0 352.0,222.0" fill="none" stroke="#8e66c8" stroke-width="4.5" stroke-linecap="round" stroke-linejoin="round"/><polyline points="352.0,210.0 346.0,222.0 347.0,228.0" fill="none" stroke="#7554ad" stroke-width="5.4" stroke-linecap="round" stroke-linejoin="round"/><polyline points="352.0,210.0 346.0,222.0 347.0,228.0" fill="none" stroke="#8e66c8" stroke-width="4.5" stroke-linecap="round" stroke-linejoin="round"/><polygon points="342.1,229.1 350.6,213.7 361.4,233.0 359.5,233.0 359.1,272.5 345.9,272.5 345.9,232.0" fill="#8e66c8" stroke="#7554ad" stroke-width="0.8" stroke-linejoin="round"/><polyline points="339.7,220.6 343.6,221.4" fill="none" stroke="#ee2b36" stroke-width="3.6" stroke-linecap="round" stroke-linejoin="round"/><polyline points="359.1,245.4 361.4,245.4" fill="none" stroke="#ee2b36" stroke-width="3.6" stroke-linecap="round" stroke-linejoin="round"/><polygon points="381.5,211.5 394.6,211.5 393.9,221.4 396.0,232.0 392.0,243.0 388.0,236.0 381.0,236.0 380.5,222.0" fill="#8e66c8" stroke="#7554ad" stroke-width="0.8" stroke-linejoin="round"/><polyline points="374.5,219.8 379.2,219.8" fill="none" stroke="#ee2b36" stroke-width="3.6" stroke-linecap="round" stroke-linejoin="round"/><polyline points="385.4,227.6 386.9,231.4" fill="none" stroke="#ee2b36" stroke-width="3.8" stroke-linecap="round" stroke-linejoin="round"/><polyline points="392.3,243.0 397.7,243.0" fill="none" stroke="#ee2b36" stroke-width="3.6" stroke-linecap="round" stroke-linejoin="round"/><polygon points="375.0,237.0 381.0,234.0 388.0,238.0 389.0,246.0 383.0,251.0 376.0,248.0" fill="none" stroke="#7554ad" stroke-width="5.4" stroke-linejoin="round"/><polygon points="375.0,237.0 381.0,234.0 388.0,238.0 389.0,246.0 383.0,251.0 376.0,248.0" fill="none" stroke="#8e66c8" stroke-width="4.5" stroke-linejoin="round"/><polyline points="383.0,251.0 385.0,258.0 384.6,262.0" fill="none" stroke="#7554ad" stroke-width="5.4" stroke-linecap="round" stroke-linejoin="round"/><polyline points="383.0,251.0 385.0,258.0 384.6,262.0" fill="none" stroke="#8e66c8" stroke-width="4.5" stroke-linecap="round" stroke-linejoin="round"/><polyline points="377.0,249.3 380.0,256.0 383.0,262.0" fill="none" stroke="#7554ad" stroke-width="5.4" stroke-linecap="round" stroke-linejoin="round"/><polyline points="377.0,249.3 380.0,256.0 383.0,262.0" fill="none" stroke="#8e66c8" stroke-width="4.5" stroke-linecap="round" stroke-linejoin="round"/><polyline points="322.0,252.4 329.7,249.3" fill="none" stroke="#7554ad" stroke-width="5.4" stroke-linecap="round" stroke-linejoin="round"/><polyline points="322.0,252.4 329.7,249.3" fill="none" stroke="#8e66c8" stroke-width="4.5" stroke-linecap="round" stroke-linejoin="round"/><polyline points="329.7,249.3 337.4,246.2" fill="none" stroke="#d4bf45" stroke-width="4.0" stroke-linecap="round" stroke-linejoin="round"/><polyline points="337.4,246.2 342.8,253.9 349.0,257.0" fill="none" stroke="#7554ad" stroke-width="5.4" stroke-linecap="round" stroke-linejoin="round"/><polyline points="337.4,246.2 342.8,253.9 349.0,257.0" fill="none" stroke="#8e66c8" stroke-width="4.5" stroke-linecap="round" stroke-linejoin="round"/><polyline points="348.2,257.8 351.3,261.6" fill="none" stroke="#2418f0" stroke-width="4.0" stroke-linecap="round" stroke-linejoin="round"/><polyline points="349.5,261.0 346.0,264.0" fill="none" stroke="#7554ad" stroke-width="5.4" stroke-linecap="round" stroke-linejoin="round"/><polyline points="349.5,261.0 346.0,264.0" fill="none" stroke="#8e66c8" stroke-width="4.5" stroke-linecap="round" stroke-linejoin="round"/><polyline points="340.5,264.0 344.4,264.0" fill="none" stroke="#ee2b36" stroke-width="3.6" stroke-linecap="round" stroke-linejoin="round"/><polyline points="342.1,274.0 345.2,274.8" fill="none" stroke="#2418f0" stroke-width="3.8" stroke-linecap="round" stroke-linejoin="round"/><polyline points="343.6,277.1 346.7,277.9" fill="none" stroke="#ee2b36" stroke-width="3.6" stroke-linecap="round" stroke-linejoin="round"/><polyline points="350.5,274.0 356.8,283.3" fill="none" stroke="#7554ad" stroke-width="5.4" stroke-linecap="round" stroke-linejoin="round"/><polyline points="350.5,274.0 356.8,283.3" fill="none" stroke="#8e66c8" stroke-width="4.5" stroke-linecap="round" stroke-linejoin="round"/><polyline points="355.2,275.6 357.5,277.9" fill="none" stroke="#2418f0" stroke-width="3.8" stroke-linecap="round" stroke-linejoin="round"/><polygon points="356.8,283.3 366.0,281.8 370.7,289.5 367.6,297.2 358.3,300.3 352.1,294.1" fill="none" stroke="#7554ad" stroke-width="5.4" stroke-linejoin="round"/><polygon points="356.8,283.3 366.0,281.8 370.7,289.5 367.6,297.2 358.3,300.3 352.1,294.1" fill="none" stroke="#8e66c8" stroke-width="4.5" stroke-linejoin="round"/><polyline points="362.9,286.4 366.0,288.0" fill="none" stroke="#2418f0" stroke-width="3.8" stroke-linecap="round" stroke-linejoin="round"/><polyline points="366.5,299.5 369.1,303.4" fill="none" stroke="#ee2b36" stroke-width="3.8" stroke-linecap="round" stroke-linejoin="round"/><polyline points="370.7,294.1 380.0,293.3 387.7,298.8 393.9,300.3 400.0,295.7 401.5,292.0" fill="none" stroke="#7554ad" stroke-width="5.4" stroke-linecap="round" stroke-linejoin="round"/><polyline points="370.7,294.1 380.0,293.3 387.7,298.8 393.9,300.3 400.0,295.7 401.5,292.0" fill="none" stroke="#8e66c8" stroke-width="4.5" stroke-linecap="round" stroke-linejoin="round"/><polyline points="401.5,292.0 404.7,288.0" fill="none" stroke="#ee2b36" stroke-width="3.8" stroke-linecap="round" stroke-linejoin="round"/><polyline points="380.0,293.3 381.5,286.4 383.1,277.1 386.1,267.8" fill="none" stroke="#7554ad" stroke-width="5.4" stroke-linecap="round" stroke-linejoin="round"/><polyline points="380.0,293.3 381.5,286.4 383.1,277.1 386.1,267.8" fill="none" stroke="#8e66c8" stroke-width="4.5" stroke-linecap="round" stroke-linejoin="round"/><polyline points="379.9,283.3 382.3,286.4" fill="none" stroke="#2418f0" stroke-width="3.8" stroke-linecap="round" stroke-linejoin="round"/><polyline points="375.3,284.8 378.4,285.6" fill="none" stroke="#ee2b36" stroke-width="3.6" stroke-linecap="round" stroke-linejoin="round"/><polygon points="386.1,267.8 392.3,264.7 399.3,267.8 400.0,272.5 392.3,274.8" fill="none" stroke="#7554ad" stroke-width="5.4" stroke-linejoin="round"/><polygon points="386.1,267.8 392.3,264.7 399.3,267.8 400.0,272.5 392.3,274.8" fill="none" stroke="#8e66c8" stroke-width="4.5" stroke-linejoin="round"/><polyline points="384.6,266.3 389.2,267.8" fill="none" stroke="#2418f0" stroke-width="3.8" stroke-linecap="round" stroke-linejoin="round"/><polyline points="384.0,262.0 386.1,267.8" fill="none" stroke="#7554ad" stroke-width="5.4" stroke-linecap="round" stroke-linejoin="round"/><polyline points="384.0,262.0 386.1,267.8" fill="none" stroke="#8e66c8" stroke-width="4.5" stroke-linecap="round" stroke-linejoin="round"/><polyline points="372.2,265.5 376.1,265.5" fill="none" stroke="#ee2b36" stroke-width="3.6" stroke-linecap="round" stroke-linejoin="round"/><polyline points="378.0,266.5 379.0,267.0" fill="none" stroke="#ee2b36" stroke-width="3.6" stroke-linecap="round" stroke-linejoin="round"/>
<polyline points="358.7,345.9 361.2,353.4" fill="none" stroke="#7554ad" stroke-width="5.4" stroke-linecap="round" stroke-linejoin="round"/><polyline points="358.7,345.9 361.2,353.4" fill="none" stroke="#8e66c8" stroke-width="4.5" stroke-linecap="round" stroke-linejoin="round"/><polyline points="361.2,365.2 360.4,356.8 365.4,351.8 373.8,350.1 382.2,352.6 387.2,355.9 392.3,355.9" fill="none" stroke="#7554ad" stroke-width="5.4" stroke-linecap="round" stroke-linejoin="round"/><polyline points="361.2,365.2 360.4,356.8 365.4,351.8 373.8,350.1 382.2,352.6 387.2,355.9 392.3,355.9" fill="none" stroke="#8e66c8" stroke-width="4.5" stroke-linecap="round" stroke-linejoin="round"/><polyline points="362.5,354.5 368.0,353.0 373.0,355.1" fill="none" stroke="#7554ad" stroke-width="5.4" stroke-linecap="round" stroke-linejoin="round"/><polyline points="362.5,354.5 368.0,353.0 373.0,355.1" fill="none" stroke="#8e66c8" stroke-width="4.5" stroke-linecap="round" stroke-linejoin="round"/><polyline points="368.3,347.9 369.3,348.4" fill="none" stroke="#ee2b36" stroke-width="3.4" stroke-linecap="round" stroke-linejoin="round"/><polyline points="373.0,355.1 378.8,356.8" fill="none" stroke="#2418f0" stroke-width="4.0" stroke-linecap="round" stroke-linejoin="round"/><polyline points="387.2,355.9 386.4,361.8 388.5,361.8" fill="none" stroke="#7554ad" stroke-width="5.4" stroke-linecap="round" stroke-linejoin="round"/><polyline points="387.2,355.9 386.4,361.8 388.5,361.8" fill="none" stroke="#8e66c8" stroke-width="4.5" stroke-linecap="round" stroke-linejoin="round"/><polyline points="388.5,361.8 390.6,361.8" fill="none" stroke="#ee2b36" stroke-width="3.6" stroke-linecap="round" stroke-linejoin="round"/><polyline points="386.4,361.8 381.3,365.2" fill="none" stroke="#7554ad" stroke-width="5.4" stroke-linecap="round" stroke-linejoin="round"/><polyline points="386.4,361.8 381.3,365.2" fill="none" stroke="#8e66c8" stroke-width="4.5" stroke-linecap="round" stroke-linejoin="round"/><polyline points="381.3,365.2 378.0,366.9" fill="none" stroke="#2418f0" stroke-width="4.0" stroke-linecap="round" stroke-linejoin="round"/><polyline points="378.0,366.9 378.0,371.9" fill="none" stroke="#7554ad" stroke-width="5.4" stroke-linecap="round" stroke-linejoin="round"/><polyline points="378.0,366.9 378.0,371.9" fill="none" stroke="#8e66c8" stroke-width="4.5" stroke-linecap="round" stroke-linejoin="round"/><polyline points="361.2,365.2 362.9,373.6 363.7,378.6" fill="none" stroke="#7554ad" stroke-width="5.4" stroke-linecap="round" stroke-linejoin="round"/><polyline points="361.2,365.2 362.9,373.6 363.7,378.6" fill="none" stroke="#8e66c8" stroke-width="4.5" stroke-linecap="round" stroke-linejoin="round"/><polyline points="361.2,358.5 362.9,365.2" fill="none" stroke="#2418f0" stroke-width="4.0" stroke-linecap="round" stroke-linejoin="round"/><polyline points="362.0,377.8 378.8,377.8 383.9,379.4" fill="none" stroke="#7554ad" stroke-width="5.4" stroke-linecap="round" stroke-linejoin="round"/><polyline points="362.0,377.8 378.8,377.8 383.9,379.4" fill="none" stroke="#8e66c8" stroke-width="4.5" stroke-linecap="round" stroke-linejoin="round"/><polyline points="387.2,390.4 397.3,388.7 406.5,383.6 412.4,382.0 414.0,379.0" fill="none" stroke="#7554ad" stroke-width="5.4" stroke-linecap="round" stroke-linejoin="round"/><polyline points="387.2,390.4 397.3,388.7 406.5,383.6 412.4,382.0 414.0,379.0" fill="none" stroke="#8e66c8" stroke-width="4.5" stroke-linecap="round" stroke-linejoin="round"/><polyline points="410.7,365.2 412.4,373.6" fill="none" stroke="#2418f0" stroke-width="3.8" stroke-linecap="round" stroke-linejoin="round"/><polyline points="412.4,375.3 417.4,381.1" fill="none" stroke="#2418f0" stroke-width="3.8" stroke-linecap="round" stroke-linejoin="round"/><polyline points="412.4,373.6 412.4,375.3" fill="none" stroke="#2418f0" stroke-width="3.8" stroke-linecap="round" stroke-linejoin="round"/><polygon points="358.7,380.3 363.7,378.6 365.4,390.4 366.2,403.8 362.0,405.0 360.4,418.4 357.0,430.2 353.6,441.0 352.0,441.0 348.6,428.5 345.3,418.4 348.6,405.0 348.6,398.8 353.6,390.4" fill="#8e66c8" stroke="#7554ad" stroke-width="0.8" stroke-linejoin="round"/><polyline points="346.9,387.0 351.1,388.7" fill="none" stroke="#ee2b36" stroke-width="3.6" stroke-linecap="round" stroke-linejoin="round"/><polyline points="346.1,423.5 348.6,430.2" fill="none" stroke="#2418f0" stroke-width="3.8" stroke-linecap="round" stroke-linejoin="round"/><polygon points="375.5,371.9 378.8,373.6 383.9,383.6 385.5,395.4 387.2,405.0 385.0,415.0 377.1,430.2 370.4,415.0 367.1,405.0 368.8,402.1 372.1,388.7 374.6,378.6" fill="#8e66c8" stroke="#7554ad" stroke-width="0.8" stroke-linejoin="round"/><polyline points="381.3,378.6 386.4,381.1" fill="none" stroke="#ee2b36" stroke-width="3.6" stroke-linecap="round" stroke-linejoin="round"/><polyline points="377.1,395.4 381.3,397.1" fill="none" stroke="#ee2b36" stroke-width="3.6" stroke-linecap="round" stroke-linejoin="round"/><polyline points="386.4,402.1 387.2,407.1" fill="none" stroke="#2418f0" stroke-width="3.8" stroke-linecap="round" stroke-linejoin="round"/><polyline points="385.5,383.6 388.9,387.0" fill="none" stroke="#2418f0" stroke-width="3.8" stroke-linecap="round" stroke-linejoin="round"/><polyline points="387.2,418.4 390.6,419.3" fill="none" stroke="#ee2b36" stroke-width="3.6" stroke-linecap="round" stroke-linejoin="round"/><polyline points="316.0,418.2 320.1,416.8 324.3,413.4" fill="none" stroke="#7554ad" stroke-width="5.4" stroke-linecap="round" stroke-linejoin="round"/><polyline points="316.0,418.2 320.1,416.8 324.3,413.4" fill="none" stroke="#8e66c8" stroke-width="4.5" stroke-linecap="round" stroke-linejoin="round"/><polyline points="313.4,418.4 317.0,418.1" fill="none" stroke="#ee2b36" stroke-width="3.6" stroke-linecap="round" stroke-linejoin="round"/><polyline points="323.4,412.4 325.1,414.2" fill="none" stroke="#ee2b36" stroke-width="3.6" stroke-linecap="round" stroke-linejoin="round"/><polyline points="320.1,416.8 330.1,421.0 338.5,415.9 345.3,418.4" fill="none" stroke="#7554ad" stroke-width="5.4" stroke-linecap="round" stroke-linejoin="round"/><polyline points="320.1,416.8 330.1,421.0 338.5,415.9 345.3,418.4" fill="none" stroke="#8e66c8" stroke-width="4.5" stroke-linecap="round" stroke-linejoin="round"/><polyline points="352.0,443.6 345.3,446.1 340.2,442.8 342.0,437.5" fill="none" stroke="#7554ad" stroke-width="5.4" stroke-linecap="round" stroke-linejoin="round"/><polyline points="352.0,443.6 345.3,446.1 340.2,442.8 342.0,437.5" fill="none" stroke="#8e66c8" stroke-width="4.5" stroke-linecap="round" stroke-linejoin="round"/><polyline points="342.0,437.5 344.0,434.4" fill="none" stroke="#ee2b36" stroke-width="3.6" stroke-linecap="round" stroke-linejoin="round"/><polyline points="340.2,442.8 338.5,447.0" fill="none" stroke="#7554ad" stroke-width="5.4" stroke-linecap="round" stroke-linejoin="round"/><polyline points="340.2,442.8 338.5,447.0" fill="none" stroke="#8e66c8" stroke-width="4.5" stroke-linecap="round" stroke-linejoin="round"/><polyline points="338.5,447.0 337.6,448.5" fill="none" stroke="#ee2b36" stroke-width="3.6" stroke-linecap="round" stroke-linejoin="round"/><polyline points="350.5,442.5 353.5,441.0" fill="none" stroke="#2418f0" stroke-width="3.8" stroke-linecap="round" stroke-linejoin="round"/><polyline points="345.3,446.1 350.0,449.0" fill="none" stroke="#7554ad" stroke-width="5.4" stroke-linecap="round" stroke-linejoin="round"/><polyline points="345.3,446.1 350.0,449.0" fill="none" stroke="#8e66c8" stroke-width="4.5" stroke-linecap="round" stroke-linejoin="round"/><polyline points="350.0,449.0 355.0,452.5" fill="none" stroke="#2418f0" stroke-width="3.8" stroke-linecap="round" stroke-linejoin="round"/><polyline points="355.0,452.5 355.3,453.7 356.2,458.7 353.0,463.5" fill="none" stroke="#7554ad" stroke-width="5.4" stroke-linecap="round" stroke-linejoin="round"/><polyline points="355.0,452.5 355.3,453.7 356.2,458.7 353.0,463.5" fill="none" stroke="#8e66c8" stroke-width="4.5" stroke-linecap="round" stroke-linejoin="round"/><polyline points="353.0,463.5 351.5,466.0" fill="none" stroke="#ee2b36" stroke-width="3.6" stroke-linecap="round" stroke-linejoin="round"/><polyline points="356.2,458.7 367.1,460.4 369.0,457.0" fill="none" stroke="#7554ad" stroke-width="5.4" stroke-linecap="round" stroke-linejoin="round"/><polyline points="356.2,458.7 367.1,460.4 369.0,457.0" fill="none" stroke="#8e66c8" stroke-width="4.5" stroke-linecap="round" stroke-linejoin="round"/><polyline points="369.5,461.0 370.4,461.5" fill="none" stroke="#ee2b36" stroke-width="3.6" stroke-linecap="round" stroke-linejoin="round"/><polyline points="369.0,457.0 373.5,454.0" fill="none" stroke="#2418f0" stroke-width="3.8" stroke-linecap="round" stroke-linejoin="round"/><polyline points="373.5,454.0 378.8,452.0 382.2,447.8" fill="none" stroke="#7554ad" stroke-width="5.4" stroke-linecap="round" stroke-linejoin="round"/><polyline points="373.5,454.0 378.8,452.0 382.2,447.8" fill="none" stroke="#8e66c8" stroke-width="4.5" stroke-linecap="round" stroke-linejoin="round"/><polygon points="379.7,439.4 388.9,437.7 395.6,447.0 392.3,453.7 382.2,447.8" fill="none" stroke="#7554ad" stroke-width="5.4" stroke-linejoin="round"/><polygon points="379.7,439.4 388.9,437.7 395.6,447.0 392.3,453.7 382.2,447.8" fill="none" stroke="#8e66c8" stroke-width="4.5" stroke-linejoin="round"/><polyline points="378.8,438.6 382.2,443.6" fill="none" stroke="#2418f0" stroke-width="3.8" stroke-linecap="round" stroke-linejoin="round"/><polyline points="379.7,439.4 377.1,430.2 375.0,424.0 367.5,422.5 368.5,433.0 374.0,433.0" fill="none" stroke="#7554ad" stroke-width="5.4" stroke-linecap="round" stroke-linejoin="round"/><polyline points="379.7,439.4 377.1,430.2 375.0,424.0 367.5,422.5 368.5,433.0 374.0,433.0" fill="none" stroke="#8e66c8" stroke-width="4.5" stroke-linecap="round" stroke-linejoin="round"/><polyline points="367.9,426.0 368.8,429.3" fill="none" stroke="#ee2b36" stroke-width="3.6" stroke-linecap="round" stroke-linejoin="round"/><polyline points="367.9,436.1 368.8,438.6" fill="none" stroke="#ee2b36" stroke-width="3.6" stroke-linecap="round" stroke-linejoin="round"/>
<polyline points="612.0,52.3 621.0,47.9 630.1,43.9 639.2,40.9 642.4,39.7 646.6,44.9 654.3,44.1 658.0,42.8 662.0,47.1 664.9,53.0 668.9,59.0 675.0,60.2 679.1,64.8 677.9,68.2 671.4,69.6 663.8,67.6 655.5,72.1 647.7,77.7 644.9,84.6 646.6,92.8 651.4,98.8 657.8,95.5 662.7,94.6 668.6,97.0 670.9,101.9 670.9,109.9 667.5,116.5 665.7,122.3 660.8,124.1 656.0,126.5 654.0,124.3 647.9,121.4 641.7,123.9 635.5,122.7 631.4,122.6 632.5,117.3 630.1,110.8 625.1,107.8 621.1,103.4 617.9,94.6 612.2,89.4 605.1,88.4 603.0,86.5 601.1,80.6 603.1,74.6 607.7,68.5 611.4,59.6 612.0,52.3" fill="none" stroke="#aaaab4" stroke-width="4.2" stroke-linecap="round" stroke-linejoin="round"/><polyline points="612.0,52.3 621.0,47.9 630.1,43.9 639.2,40.9 642.4,39.7 646.6,44.9 654.3,44.1 658.0,42.8 662.0,47.1 664.9,53.0 668.9,59.0 675.0,60.2 679.1,64.8 677.9,68.2 671.4,69.6 663.8,67.6 655.5,72.1 647.7,77.7 644.9,84.6 646.6,92.8 651.4,98.8 657.8,95.5 662.7,94.6 668.6,97.0 670.9,101.9 670.9,109.9 667.5,116.5 665.7,122.3 660.8,124.1 656.0,126.5 654.0,124.3 647.9,121.4 641.7,123.9 635.5,122.7 631.4,122.6 632.5,117.3 630.1,110.8 625.1,107.8 621.1,103.4 617.9,94.6 612.2,89.4 605.1,88.4 603.0,86.5 601.1,80.6 603.1,74.6 607.7,68.5 611.4,59.6 612.0,52.3" fill="none" stroke="#e6e6ea" stroke-width="3.2" stroke-linecap="round" stroke-linejoin="round"/><polyline points="610.0,50.6 619.8,45.5 629.1,41.4 638.4,38.3 643.5,37.2 647.6,42.4 653.8,41.4 659.0,40.3 664.2,45.5 667.3,51.7 670.4,56.8 676.5,57.9 681.7,64.1 679.6,70.3 671.4,72.3 664.2,70.3 656.9,74.4 649.7,79.5 647.6,84.7 649.1,91.9 651.8,96.1 656.9,93.0 663.1,91.9 670.4,95.0 673.5,101.3 673.5,110.5 670.0,117.6 667.7,124.1 661.9,126.6 656.0,129.2 652.6,126.6 647.9,124.1 642.0,126.6 635.0,125.3 629.2,124.1 629.8,117.6 628.0,112.5 623.4,109.9 618.7,104.7 615.6,96.0 611.1,91.9 604.1,90.9 600.7,87.8 598.4,80.6 600.7,73.4 605.4,67.2 608.8,58.9 610.0,50.6" fill="none" stroke="#7c5db3" stroke-width="3.9" stroke-linecap="round" stroke-linejoin="round"/><polyline points="610.0,50.6 619.8,45.5 629.1,41.4 638.4,38.3 643.5,37.2 647.6,42.4 653.8,41.4 659.0,40.3 664.2,45.5 667.3,51.7 670.4,56.8 676.5,57.9 681.7,64.1 679.6,70.3 671.4,72.3 664.2,70.3 656.9,74.4 649.7,79.5 647.6,84.7 649.1,91.9 651.8,96.1 656.9,93.0 663.1,91.9 670.4,95.0 673.5,101.3 673.5,110.5 670.0,117.6 667.7,124.1 661.9,126.6 656.0,129.2 652.6,126.6 647.9,124.1 642.0,126.6 635.0,125.3 629.2,124.1 629.8,117.6 628.0,112.5 623.4,109.9 618.7,104.7 615.6,96.0 611.1,91.9 604.1,90.9 600.7,87.8 598.4,80.6 600.7,73.4 605.4,67.2 608.8,58.9 610.0,50.6" fill="none" stroke="#9a7ccc" stroke-width="3.3" stroke-linecap="round" stroke-linejoin="round"/><line x1="647.6" y1="42.4" x2="645.6" y2="51.7" stroke="#9271c9" stroke-width="2.8" stroke-linecap="round"/><line x1="670.6" y1="72.1" x2="671.4" y2="69.2" stroke="#9271c9" stroke-width="2.8" stroke-linecap="round"/><line x1="672.4" y1="72.1" x2="674.5" y2="80.6" stroke="#9271c9" stroke-width="2.8" stroke-linecap="round"/><line x1="650.6" y1="94.2" x2="647.6" y2="96.1" stroke="#9271c9" stroke-width="2.8" stroke-linecap="round"/><line x1="651.8" y1="96.1" x2="652.8" y2="98.1" stroke="#9271c9" stroke-width="2.8" stroke-linecap="round"/><line x1="604.4" y1="68.5" x2="605.4" y2="69.2" stroke="#9271c9" stroke-width="2.8" stroke-linecap="round"/><line x1="615.4" y1="95.8" x2="620.8" y2="89.9" stroke="#9271c9" stroke-width="2.8" stroke-linecap="round"/><line x1="623.8" y1="43.7" x2="625.5" y2="47.5" stroke="#9271c9" stroke-width="2.8" stroke-linecap="round"/><line x1="629.2" y1="124.1" x2="622.4" y2="129.7" stroke="#9271c9" stroke-width="2.8" stroke-linecap="round"/><line x1="656.0" y1="129.2" x2="655.5" y2="133.6" stroke="#9271c9" stroke-width="2.8" stroke-linecap="round"/><line x1="671.1" y1="115.3" x2="675.9" y2="117.6" stroke="#9271c9" stroke-width="2.8" stroke-linecap="round"/><line x1="645.6" y1="51.7" x2="646.6" y2="56.3" stroke="#ee2b36" stroke-width="3.6" stroke-linecap="round"/><line x1="670.4" y1="66.1" x2="671.4" y2="69.2" stroke="#ee2b36" stroke-width="3.6" stroke-linecap="round"/><line x1="674.5" y1="80.6" x2="675.5" y2="84.7" stroke="#ee2b36" stroke-width="3.6" stroke-linecap="round"/><line x1="647.6" y1="96.1" x2="648.7" y2="100.2" stroke="#ee2b36" stroke-width="3.6" stroke-linecap="round"/><line x1="652.8" y1="98.1" x2="654.9" y2="101.3" stroke="#ee2b36" stroke-width="3.6" stroke-linecap="round"/><line x1="605.4" y1="69.2" x2="607.0" y2="72.3" stroke="#ee2b36" stroke-width="3.6" stroke-linecap="round"/><line x1="620.8" y1="89.9" x2="622.9" y2="91.9" stroke="#ee2b36" stroke-width="3.6" stroke-linecap="round"/><line x1="625.5" y1="47.5" x2="626.5" y2="48.0" stroke="#ee2b36" stroke-width="3.6" stroke-linecap="round"/><line x1="617.5" y1="133.0" x2="622.4" y2="129.7" stroke="#ee2b36" stroke-width="3.6" stroke-linecap="round"/><line x1="653.7" y1="139.1" x2="655.5" y2="133.6" stroke="#ee2b36" stroke-width="3.6" stroke-linecap="round"/><line x1="675.9" y1="117.6" x2="679.4" y2="120.2" stroke="#ee2b36" stroke-width="3.6" stroke-linecap="round"/><line x1="632.2" y1="43.3" x2="635.9" y2="44.5" stroke="#2418f0" stroke-width="3.3" stroke-linecap="round"/><line x1="631.3" y1="40.7" x2="635.1" y2="42.0" stroke="#2418f0" stroke-width="3.4" stroke-linecap="round"/><line x1="655.8" y1="41.6" x2="658.4" y2="42.9" stroke="#2418f0" stroke-width="3.3" stroke-linecap="round"/><line x1="657.7" y1="39.7" x2="660.3" y2="41.0" stroke="#2418f0" stroke-width="3.4" stroke-linecap="round"/><line x1="673.8" y1="58.7" x2="676.3" y2="59.3" stroke="#2418f0" stroke-width="3.3" stroke-linecap="round"/><line x1="674.2" y1="56.0" x2="676.8" y2="56.6" stroke="#2418f0" stroke-width="3.4" stroke-linecap="round"/><line x1="658.9" y1="67.3" x2="662.6" y2="68.5" stroke="#2418f0" stroke-width="3.3" stroke-linecap="round"/><line x1="660.2" y1="69.6" x2="664.0" y2="70.9" stroke="#2418f0" stroke-width="3.4" stroke-linecap="round"/><line x1="645.7" y1="77.9" x2="647.6" y2="79.2" stroke="#2418f0" stroke-width="3.3" stroke-linecap="round"/><line x1="648.2" y1="78.9" x2="650.1" y2="80.2" stroke="#2418f0" stroke-width="3.4" stroke-linecap="round"/><line x1="662.7" y1="93.6" x2="664.5" y2="94.2" stroke="#2418f0" stroke-width="3.3" stroke-linecap="round"/><line x1="663.7" y1="91.1" x2="665.6" y2="91.7" stroke="#2418f0" stroke-width="3.4" stroke-linecap="round"/><line x1="667.0" y1="107.9" x2="668.4" y2="110.4" stroke="#2418f0" stroke-width="3.3" stroke-linecap="round"/><line x1="669.7" y1="107.9" x2="671.1" y2="110.4" stroke="#2418f0" stroke-width="3.4" stroke-linecap="round"/><line x1="611.0" y1="58.0" x2="613.1" y2="60.5" stroke="#2418f0" stroke-width="3.3" stroke-linecap="round"/><line x1="608.3" y1="57.6" x2="610.4" y2="60.2" stroke="#2418f0" stroke-width="3.4" stroke-linecap="round"/><line x1="602.3" y1="88.3" x2="605.0" y2="89.5" stroke="#2418f0" stroke-width="3.3" stroke-linecap="round"/><line x1="600.5" y1="90.3" x2="603.2" y2="91.5" stroke="#2418f0" stroke-width="3.4" stroke-linecap="round"/><line x1="629.4" y1="111.3" x2="631.8" y2="113.4" stroke="#2418f0" stroke-width="3.3" stroke-linecap="round"/><line x1="626.8" y1="112.2" x2="629.3" y2="114.3" stroke="#2418f0" stroke-width="3.4" stroke-linecap="round"/><line x1="648.5" y1="121.1" x2="650.5" y2="122.4" stroke="#2418f0" stroke-width="3.3" stroke-linecap="round"/><line x1="647.2" y1="123.5" x2="649.2" y2="124.8" stroke="#2418f0" stroke-width="3.4" stroke-linecap="round"/>
<polyline points="623.6,187.7 622.2,190.4 624.2,197.8 627.2,202.8 622.4,210.4 620.0,212.7 624.3,216.8 622.8,224.2 626.8,229.0 629.4,235.1 626.5,241.1 627.1,245.8 628.6,251.4 624.4,259.4 628.7,266.2 627.1,274.7 630.8,277.8 637.3,284.7 634.4,290.5 638.3,292.9 647.0,292.9 653.7,297.8 655.3,300.1 661.2,298.7 665.7,296.9 665.4,293.8 660.8,288.6 663.8,280.4 665.4,273.5 658.7,270.0 655.1,262.8 655.1,253.4 656.7,246.9 659.4,243.1 657.9,239.2 659.4,233.4 658.1,222.8 653.6,217.9 656.5,211.5 655.2,206.8 652.2,198.8 655.1,194.4 652.9,193.4 649.6,189.0 639.4,188.5 635.3,191.3 629.5,190.5 623.6,187.7" fill="none" stroke="#aaaab4" stroke-width="4.2" stroke-linecap="round" stroke-linejoin="round"/><polyline points="623.6,187.7 622.2,190.4 624.2,197.8 627.2,202.8 622.4,210.4 620.0,212.7 624.3,216.8 622.8,224.2 626.8,229.0 629.4,235.1 626.5,241.1 627.1,245.8 628.6,251.4 624.4,259.4 628.7,266.2 627.1,274.7 630.8,277.8 637.3,284.7 634.4,290.5 638.3,292.9 647.0,292.9 653.7,297.8 655.3,300.1 661.2,298.7 665.7,296.9 665.4,293.8 660.8,288.6 663.8,280.4 665.4,273.5 658.7,270.0 655.1,262.8 655.1,253.4 656.7,246.9 659.4,243.1 657.9,239.2 659.4,233.4 658.1,222.8 653.6,217.9 656.5,211.5 655.2,206.8 652.2,198.8 655.1,194.4 652.9,193.4 649.6,189.0 639.4,188.5 635.3,191.3 629.5,190.5 623.6,187.7" fill="none" stroke="#e6e6ea" stroke-width="3.2" stroke-linecap="round" stroke-linejoin="round"/><polyline points="623.1,185.1 619.5,190.1 621.7,198.8 624.5,202.4 620.2,208.9 617.3,213.2 621.7,217.5 620.2,224.8 624.5,230.5 626.7,234.9 623.8,240.6 624.5,246.4 626.0,250.8 621.7,259.4 626.0,266.7 624.5,275.3 628.9,279.7 634.7,285.4 631.8,291.2 637.5,295.5 646.2,295.5 652.0,299.9 654.9,302.8 662.1,301.3 667.9,298.4 667.9,292.7 663.5,288.3 666.4,281.1 667.9,272.4 660.6,268.1 657.8,262.3 657.8,253.7 659.2,247.9 662.1,243.5 660.6,239.2 662.1,233.4 660.6,221.9 656.3,217.5 659.2,211.8 657.8,206.0 654.9,198.8 657.8,194.4 654.9,191.6 650.5,186.5 639.0,185.8 634.7,188.7 630.3,187.9 623.1,185.1" fill="none" stroke="#7c5db3" stroke-width="3.9" stroke-linecap="round" stroke-linejoin="round"/><polyline points="623.1,185.1 619.5,190.1 621.7,198.8 624.5,202.4 620.2,208.9 617.3,213.2 621.7,217.5 620.2,224.8 624.5,230.5 626.7,234.9 623.8,240.6 624.5,246.4 626.0,250.8 621.7,259.4 626.0,266.7 624.5,275.3 628.9,279.7 634.7,285.4 631.8,291.2 637.5,295.5 646.2,295.5 652.0,299.9 654.9,302.8 662.1,301.3 667.9,298.4 667.9,292.7 663.5,288.3 666.4,281.1 667.9,272.4 660.6,268.1 657.8,262.3 657.8,253.7 659.2,247.9 662.1,243.5 660.6,239.2 662.1,233.4 660.6,221.9 656.3,217.5 659.2,211.8 657.8,206.0 654.9,198.8 657.8,194.4 654.9,191.6 650.5,186.5 639.0,185.8 634.7,188.7 630.3,187.9 623.1,185.1" fill="none" stroke="#9a7ccc" stroke-width="3.3" stroke-linecap="round" stroke-linejoin="round"/><line x1="631.2" y1="188.1" x2="630.3" y2="193.2" stroke="#9271c9" stroke-width="2.8" stroke-linecap="round"/><line x1="624.5" y1="202.4" x2="627.4" y2="201.7" stroke="#9271c9" stroke-width="2.8" stroke-linecap="round"/><line x1="657.6" y1="194.6" x2="660.6" y2="196.6" stroke="#9271c9" stroke-width="2.8" stroke-linecap="round"/><line x1="656.3" y1="217.5" x2="650.5" y2="219.0" stroke="#9271c9" stroke-width="2.8" stroke-linecap="round"/><line x1="620.2" y1="224.8" x2="613.0" y2="226.9" stroke="#9271c9" stroke-width="2.8" stroke-linecap="round"/><line x1="661.9" y1="243.0" x2="666.4" y2="241.4" stroke="#9271c9" stroke-width="2.8" stroke-linecap="round"/><line x1="626.0" y1="250.8" x2="631.8" y2="250.8" stroke="#9271c9" stroke-width="2.8" stroke-linecap="round"/><line x1="624.5" y1="275.3" x2="620.9" y2="275.3" stroke="#9271c9" stroke-width="2.8" stroke-linecap="round"/><line x1="631.8" y1="291.2" x2="626.0" y2="288.3" stroke="#9271c9" stroke-width="2.8" stroke-linecap="round"/><line x1="631.8" y1="291.2" x2="626.0" y2="292.0" stroke="#9271c9" stroke-width="2.8" stroke-linecap="round"/><line x1="660.4" y1="267.7" x2="654.9" y2="270.3" stroke="#9271c9" stroke-width="2.8" stroke-linecap="round"/><line x1="665.7" y1="290.5" x2="662.1" y2="294.1" stroke="#9271c9" stroke-width="2.8" stroke-linecap="round"/><line x1="653.8" y1="301.7" x2="649.8" y2="305.6" stroke="#9271c9" stroke-width="2.8" stroke-linecap="round"/><line x1="654.9" y1="302.8" x2="654.2" y2="307.1" stroke="#9271c9" stroke-width="2.8" stroke-linecap="round"/><line x1="630.3" y1="193.2" x2="631.0" y2="194.5" stroke="#ee2b36" stroke-width="3.6" stroke-linecap="round"/><line x1="627.4" y1="201.7" x2="633.2" y2="201.7" stroke="#ee2b36" stroke-width="3.6" stroke-linecap="round"/><line x1="660.6" y1="196.6" x2="666.4" y2="197.3" stroke="#ee2b36" stroke-width="3.6" stroke-linecap="round"/><line x1="646.2" y1="221.2" x2="650.5" y2="219.0" stroke="#ee2b36" stroke-width="3.6" stroke-linecap="round"/><line x1="607.2" y1="226.9" x2="613.0" y2="226.9" stroke="#ee2b36" stroke-width="3.6" stroke-linecap="round"/><line x1="666.4" y1="241.4" x2="675.8" y2="242.1" stroke="#ee2b36" stroke-width="3.6" stroke-linecap="round"/><line x1="631.8" y1="250.8" x2="638.3" y2="252.2" stroke="#ee2b36" stroke-width="3.6" stroke-linecap="round"/><line x1="615.9" y1="275.3" x2="620.9" y2="275.3" stroke="#ee2b36" stroke-width="3.6" stroke-linecap="round"/><line x1="620.9" y1="289.0" x2="626.0" y2="288.3" stroke="#ee2b36" stroke-width="3.6" stroke-linecap="round"/><line x1="620.9" y1="292.7" x2="626.0" y2="292.0" stroke="#ee2b36" stroke-width="3.6" stroke-linecap="round"/><line x1="650.5" y1="272.4" x2="654.9" y2="270.3" stroke="#ee2b36" stroke-width="3.6" stroke-linecap="round"/><line x1="660.0" y1="292.7" x2="662.1" y2="294.1" stroke="#ee2b36" stroke-width="3.6" stroke-linecap="round"/><line x1="647.7" y1="310.0" x2="649.8" y2="305.6" stroke="#ee2b36" stroke-width="3.6" stroke-linecap="round"/><line x1="652.7" y1="311.4" x2="654.2" y2="307.1" stroke="#ee2b36" stroke-width="3.6" stroke-linecap="round"/><line x1="620.6" y1="191.8" x2="622.8" y2="194.4" stroke="#2418f0" stroke-width="3.3" stroke-linecap="round"/><line x1="618.0" y1="192.5" x2="620.2" y2="195.0" stroke="#2418f0" stroke-width="3.4" stroke-linecap="round"/><line x1="623.6" y1="219.2" x2="625.7" y2="222.7" stroke="#2418f0" stroke-width="3.3" stroke-linecap="round"/><line x1="620.9" y1="218.7" x2="623.1" y2="222.1" stroke="#2418f0" stroke-width="3.4" stroke-linecap="round"/><line x1="623.9" y1="240.0" x2="627.0" y2="243.5" stroke="#2418f0" stroke-width="3.3" stroke-linecap="round"/><line x1="621.2" y1="240.4" x2="624.3" y2="243.8" stroke="#2418f0" stroke-width="3.4" stroke-linecap="round"/><line x1="638.0" y1="187.4" x2="644.0" y2="188.8" stroke="#2418f0" stroke-width="3.3" stroke-linecap="round"/><line x1="638.1" y1="184.7" x2="644.2" y2="186.1" stroke="#2418f0" stroke-width="3.4" stroke-linecap="round"/><line x1="651.5" y1="199.5" x2="653.2" y2="202.9" stroke="#2418f0" stroke-width="3.3" stroke-linecap="round"/><line x1="654.0" y1="198.5" x2="655.7" y2="201.9" stroke="#2418f0" stroke-width="3.4" stroke-linecap="round"/><line x1="657.7" y1="222.2" x2="661.2" y2="226.6" stroke="#2418f0" stroke-width="3.3" stroke-linecap="round"/><line x1="660.4" y1="221.9" x2="663.8" y2="226.2" stroke="#2418f0" stroke-width="3.4" stroke-linecap="round"/><line x1="654.3" y1="247.3" x2="657.0" y2="250.0" stroke="#2418f0" stroke-width="3.3" stroke-linecap="round"/><line x1="656.9" y1="247.9" x2="659.6" y2="250.6" stroke="#2418f0" stroke-width="3.4" stroke-linecap="round"/><line x1="628.7" y1="268.3" x2="630.8" y2="271.7" stroke="#2418f0" stroke-width="3.3" stroke-linecap="round"/><line x1="626.0" y1="267.8" x2="628.2" y2="271.3" stroke="#2418f0" stroke-width="3.4" stroke-linecap="round"/><line x1="637.0" y1="286.1" x2="639.2" y2="288.6" stroke="#2418f0" stroke-width="3.3" stroke-linecap="round"/><line x1="634.6" y1="284.9" x2="636.8" y2="287.4" stroke="#2418f0" stroke-width="3.4" stroke-linecap="round"/><line x1="647.4" y1="292.7" x2="650.4" y2="294.8" stroke="#2418f0" stroke-width="3.3" stroke-linecap="round"/><line x1="645.8" y1="294.8" x2="648.8" y2="297.0" stroke="#2418f0" stroke-width="3.4" stroke-linecap="round"/><line x1="664.0" y1="291.1" x2="666.5" y2="293.7" stroke="#2418f0" stroke-width="3.3" stroke-linecap="round"/><line x1="665.9" y1="289.2" x2="668.4" y2="291.8" stroke="#2418f0" stroke-width="3.4" stroke-linecap="round"/><line x1="665.0" y1="272.7" x2="667.2" y2="275.3" stroke="#2418f0" stroke-width="3.3" stroke-linecap="round"/><line x1="666.4" y1="270.4" x2="668.6" y2="273.0" stroke="#2418f0" stroke-width="3.4" stroke-linecap="round"/>
<polyline points="632.7,363.0 636.7,359.6 640.0,358.6 645.8,358.6 649.9,357.1 651.8,356.7 650.3,357.5 645.7,364.6 647.7,370.7 653.9,375.4 657.7,377.8 660.2,382.9 661.6,386.9 657.2,392.7 658.7,398.4 660.0,403.2 657.2,408.5 656.0,416.7 650.3,421.0 649.9,428.4 651.7,438.0 656.3,441.4 660.0,447.2 657.6,451.1 652.1,458.0 646.8,463.4 636.8,468.7 642.3,466.0 640.6,460.0 634.8,453.0 628.2,454.8 630.5,452.4 634.4,446.9 630.6,437.2 627.6,429.8 623.6,424.2 630.7,414.4 629.2,404.5 633.1,400.9 636.6,395.3 635.8,387.1 634.3,381.1 632.1,375.5 631.4,368.0 628.5,366.0 632.7,363.0" fill="none" stroke="#aaaab4" stroke-width="4.2" stroke-linecap="round" stroke-linejoin="round"/><polyline points="632.7,363.0 636.7,359.6 640.0,358.6 645.8,358.6 649.9,357.1 651.8,356.7 650.3,357.5 645.7,364.6 647.7,370.7 653.9,375.4 657.7,377.8 660.2,382.9 661.6,386.9 657.2,392.7 658.7,398.4 660.0,403.2 657.2,408.5 656.0,416.7 650.3,421.0 649.9,428.4 651.7,438.0 656.3,441.4 660.0,447.2 657.6,451.1 652.1,458.0 646.8,463.4 636.8,468.7 642.3,466.0 640.6,460.0 634.8,453.0 628.2,454.8 630.5,452.4 634.4,446.9 630.6,437.2 627.6,429.8 623.6,424.2 630.7,414.4 629.2,404.5 633.1,400.9 636.6,395.3 635.8,387.1 634.3,381.1 632.1,375.5 631.4,368.0 628.5,366.0 632.7,363.0" fill="none" stroke="#e6e6ea" stroke-width="3.2" stroke-linecap="round" stroke-linejoin="round"/><polyline points="631.0,360.9 635.3,357.3 639.6,355.9 645.4,355.9 649.7,354.4 654.1,355.2 652.6,358.8 648.3,365.3 649.7,368.9 655.5,373.2 659.8,376.1 662.7,381.9 664.2,387.6 659.8,393.4 661.3,397.7 662.7,403.5 659.8,409.3 658.4,418.0 652.6,422.3 652.6,428.1 654.1,436.8 658.4,439.6 662.7,446.9 659.8,452.6 654.1,459.8 648.3,465.6 636.8,471.4 639.6,465.6 638.2,461.3 633.9,455.5 626.6,457.0 628.1,451.2 631.7,446.9 628.1,438.2 625.2,431.0 620.9,423.8 628.1,413.7 626.6,404.0 631.0,399.2 633.9,394.8 633.1,387.6 631.7,381.9 629.5,376.1 628.8,368.9 625.9,365.3 631.0,360.9" fill="none" stroke="#7c5db3" stroke-width="3.9" stroke-linecap="round" stroke-linejoin="round"/><polyline points="631.0,360.9 635.3,357.3 639.6,355.9 645.4,355.9 649.7,354.4 654.1,355.2 652.6,358.8 648.3,365.3 649.7,368.9 655.5,373.2 659.8,376.1 662.7,381.9 664.2,387.6 659.8,393.4 661.3,397.7 662.7,403.5 659.8,409.3 658.4,418.0 652.6,422.3 652.6,428.1 654.1,436.8 658.4,439.6 662.7,446.9 659.8,452.6 654.1,459.8 648.3,465.6 636.8,471.4 639.6,465.6 638.2,461.3 633.9,455.5 626.6,457.0 628.1,451.2 631.7,446.9 628.1,438.2 625.2,431.0 620.9,423.8 628.1,413.7 626.6,404.0 631.0,399.2 633.9,394.8 633.1,387.6 631.7,381.9 629.5,376.1 628.8,368.9 625.9,365.3 631.0,360.9" fill="none" stroke="#9a7ccc" stroke-width="3.3" stroke-linecap="round" stroke-linejoin="round"/><line x1="638.5" y1="356.3" x2="636.0" y2="348.7" stroke="#9271c9" stroke-width="2.8" stroke-linecap="round"/><line x1="635.7" y1="357.2" x2="633.9" y2="351.5" stroke="#9271c9" stroke-width="2.8" stroke-linecap="round"/><line x1="631.5" y1="398.5" x2="623.8" y2="393.4" stroke="#9271c9" stroke-width="2.8" stroke-linecap="round"/><line x1="628.8" y1="401.6" x2="624.5" y2="397.7" stroke="#9271c9" stroke-width="2.8" stroke-linecap="round"/><line x1="660.5" y1="395.5" x2="656.2" y2="397.0" stroke="#9271c9" stroke-width="2.8" stroke-linecap="round"/><line x1="654.1" y1="355.2" x2="657.0" y2="354.4" stroke="#9271c9" stroke-width="2.8" stroke-linecap="round"/><line x1="627.6" y1="414.4" x2="631.7" y2="417.3" stroke="#9271c9" stroke-width="2.8" stroke-linecap="round"/><line x1="627.8" y1="452.3" x2="620.9" y2="450.5" stroke="#9271c9" stroke-width="2.8" stroke-linecap="round"/><line x1="627.1" y1="455.2" x2="623.0" y2="454.1" stroke="#9271c9" stroke-width="2.8" stroke-linecap="round"/><line x1="638.1" y1="468.7" x2="634.6" y2="467.0" stroke="#9271c9" stroke-width="2.8" stroke-linecap="round"/><line x1="654.1" y1="436.8" x2="651.2" y2="438.9" stroke="#9271c9" stroke-width="2.8" stroke-linecap="round"/><line x1="658.5" y1="417.3" x2="662.7" y2="418.0" stroke="#9271c9" stroke-width="2.8" stroke-linecap="round"/><line x1="633.1" y1="347.2" x2="636.0" y2="348.7" stroke="#ee2b36" stroke-width="3.6" stroke-linecap="round"/><line x1="631.7" y1="350.1" x2="633.9" y2="351.5" stroke="#ee2b36" stroke-width="3.6" stroke-linecap="round"/><line x1="618.0" y1="393.4" x2="623.8" y2="393.4" stroke="#ee2b36" stroke-width="3.6" stroke-linecap="round"/><line x1="619.4" y1="397.7" x2="624.5" y2="397.7" stroke="#ee2b36" stroke-width="3.6" stroke-linecap="round"/><line x1="651.2" y1="396.3" x2="656.2" y2="397.0" stroke="#ee2b36" stroke-width="3.6" stroke-linecap="round"/><line x1="657.0" y1="354.4" x2="660.6" y2="355.9" stroke="#ee2b36" stroke-width="3.6" stroke-linecap="round"/><line x1="631.7" y1="417.3" x2="635.3" y2="418.7" stroke="#ee2b36" stroke-width="3.6" stroke-linecap="round"/><line x1="615.8" y1="449.7" x2="620.9" y2="450.5" stroke="#ee2b36" stroke-width="3.6" stroke-linecap="round"/><line x1="618.7" y1="454.1" x2="623.0" y2="454.1" stroke="#ee2b36" stroke-width="3.6" stroke-linecap="round"/><line x1="632.4" y1="468.5" x2="634.6" y2="467.0" stroke="#ee2b36" stroke-width="3.6" stroke-linecap="round"/><line x1="634.6" y1="472.8" x2="636.0" y2="471.4" stroke="#ee2b36" stroke-width="3.6" stroke-linecap="round"/><line x1="646.9" y1="439.6" x2="651.2" y2="438.9" stroke="#ee2b36" stroke-width="3.6" stroke-linecap="round"/><line x1="662.7" y1="418.0" x2="667.1" y2="419.4" stroke="#ee2b36" stroke-width="3.6" stroke-linecap="round"/><line x1="627.3" y1="403.9" x2="629.9" y2="406.5" stroke="#2418f0" stroke-width="3.3" stroke-linecap="round"/><line x1="624.7" y1="404.4" x2="627.2" y2="406.9" stroke="#2418f0" stroke-width="3.4" stroke-linecap="round"/><line x1="634.5" y1="392.6" x2="637.1" y2="395.1" stroke="#2418f0" stroke-width="3.3" stroke-linecap="round"/><line x1="631.9" y1="392.9" x2="634.4" y2="395.4" stroke="#2418f0" stroke-width="3.4" stroke-linecap="round"/><line x1="631.3" y1="373.4" x2="633.5" y2="376.9" stroke="#2418f0" stroke-width="3.3" stroke-linecap="round"/><line x1="628.8" y1="374.4" x2="631.0" y2="377.8" stroke="#2418f0" stroke-width="3.4" stroke-linecap="round"/><line x1="639.4" y1="358.0" x2="642.8" y2="360.6" stroke="#2418f0" stroke-width="3.3" stroke-linecap="round"/><line x1="639.4" y1="355.3" x2="642.8" y2="357.9" stroke="#2418f0" stroke-width="3.4" stroke-linecap="round"/><line x1="645.2" y1="362.5" x2="646.9" y2="365.1" stroke="#2418f0" stroke-width="3.3" stroke-linecap="round"/><line x1="647.5" y1="364.0" x2="649.1" y2="366.5" stroke="#2418f0" stroke-width="3.4" stroke-linecap="round"/><line x1="656.8" y1="380.1" x2="659.4" y2="384.5" stroke="#2418f0" stroke-width="3.3" stroke-linecap="round"/><line x1="659.3" y1="378.9" x2="661.8" y2="383.3" stroke="#2418f0" stroke-width="3.4" stroke-linecap="round"/><line x1="656.6" y1="403.2" x2="658.3" y2="405.7" stroke="#2418f0" stroke-width="3.3" stroke-linecap="round"/><line x1="659.0" y1="404.4" x2="660.7" y2="406.9" stroke="#2418f0" stroke-width="3.4" stroke-linecap="round"/><line x1="627.0" y1="428.3" x2="629.2" y2="431.7" stroke="#2418f0" stroke-width="3.3" stroke-linecap="round"/><line x1="624.5" y1="429.3" x2="626.7" y2="432.7" stroke="#2418f0" stroke-width="3.4" stroke-linecap="round"/><line x1="633.1" y1="448.0" x2="635.3" y2="450.6" stroke="#2418f0" stroke-width="3.3" stroke-linecap="round"/><line x1="631.0" y1="446.3" x2="633.2" y2="448.8" stroke="#2418f0" stroke-width="3.4" stroke-linecap="round"/><line x1="635.4" y1="453.2" x2="638.1" y2="455.4" stroke="#2418f0" stroke-width="3.3" stroke-linecap="round"/><line x1="633.3" y1="454.8" x2="635.9" y2="457.0" stroke="#2418f0" stroke-width="3.4" stroke-linecap="round"/><line x1="651.6" y1="457.4" x2="654.2" y2="459.9" stroke="#2418f0" stroke-width="3.3" stroke-linecap="round"/><line x1="653.5" y1="459.3" x2="656.1" y2="461.8" stroke="#2418f0" stroke-width="3.4" stroke-linecap="round"/><line x1="658.4" y1="444.8" x2="661.0" y2="447.4" stroke="#2418f0" stroke-width="3.3" stroke-linecap="round"/><line x1="660.7" y1="443.4" x2="663.3" y2="446.0" stroke="#2418f0" stroke-width="3.4" stroke-linecap="round"/><line x1="649.1" y1="421.8" x2="650.8" y2="424.3" stroke="#2418f0" stroke-width="3.3" stroke-linecap="round"/><line x1="651.8" y1="421.8" x2="653.5" y2="424.3" stroke="#2418f0" stroke-width="3.4" stroke-linecap="round"/>
<clipPath id="clip18"><rect x="477.5" y="18.8" width="109.0" height="114.7"/></clipPath><g clip-path="url(#clip18)"><polygon points="495.3,16.0 564.5,16.0 564.5,18.8 564.0,28.0 563.1,34.0 562.0,42.0 560.7,50.0 558.7,55.0 557.6,59.7 559.3,63.8 557.0,66.7 555.2,69.0 554.1,71.4 552.9,73.7 551.2,76.0 550.6,78.4 547.6,80.7 547.1,84.2 544.7,84.2 543.6,80.7 540.1,79.5 535.4,78.4 532.5,78.9 530.7,80.1 528.4,79.5 527.2,81.9 526.0,84.2 526.6,90.0 527.2,95.9 527.2,100.5 524.3,101.7 521.4,102.3 519.0,101.7 517.9,97.0 518.5,88.9 517.9,83.6 520.2,83.0 522.0,80.7 521.4,77.2 519.0,76.0 516.7,76.6 513.2,78.4 510.9,83.0 509.7,86.5 507.4,90.0 505.6,92.4 501.5,91.2 497.4,92.4 499.2,97.0 500.9,102.3 499.2,102.9 498.0,99.4 495.7,97.0 492.2,98.2 489.8,95.3 492.2,92.4 491.0,87.7 490.4,85.4 493.3,81.9 495.7,78.4 494.5,76.0 492.2,70.2 493.3,64.3 492.0,58.0 493.2,54.3 494.5,52.6 494.1,46.9 490.8,45.2 489.5,41.1 490.0,36.1 492.4,33.7 497.4,33.7 500.3,32.0 499.8,25.4 496.5,23.0 495.3,18.8" fill="#9467c4"/><circle cx="495.8" cy="17.0" r="2.1" fill="#9467c4"/><circle cx="498.1" cy="17.2" r="2.1" fill="#9467c4"/><circle cx="500.9" cy="16.9" r="2.1" fill="#9467c4"/><circle cx="503.4" cy="17.0" r="2.1" fill="#9467c4"/><circle cx="506.6" cy="17.6" r="2.1" fill="#9467c4"/><circle cx="508.8" cy="16.9" r="2.1" fill="#9467c4"/><circle cx="511.3" cy="16.8" r="2.1" fill="#9467c4"/><circle cx="514.1" cy="17.6" r="2.1" fill="#9467c4"/><circle cx="515.2" cy="16.6" r="2.1" fill="#9467c4"/><circle cx="518.7" cy="17.5" r="2.1" fill="#9467c4"/><circle cx="520.9" cy="17.2" r="2.1" fill="#9467c4"/><circle cx="523.8" cy="17.0" r="2.1" fill="#9467c4"/><circle cx="525.1" cy="17.7" r="2.1" fill="#9467c4"/><circle cx="527.9" cy="17.4" r="2.1" fill="#9467c4"/><circle cx="529.8" cy="17.4" r="2.1" fill="#9467c4"/><circle cx="532.9" cy="17.2" r="2.1" fill="#9467c4"/><circle cx="535.2" cy="17.3" r="2.1" fill="#9467c4"/><circle cx="537.9" cy="17.6" r="2.1" fill="#9467c4"/><circle cx="541.0" cy="16.7" r="2.1" fill="#9467c4"/><circle cx="542.0" cy="16.7" r="2.1" fill="#9467c4"/><circle cx="545.7" cy="16.8" r="2.1" fill="#9467c4"/><circle cx="548.7" cy="17.5" r="2.1" fill="#9467c4"/><circle cx="551.1" cy="17.2" r="2.1" fill="#9467c4"/><circle cx="553.1" cy="17.4" r="2.1" fill="#9467c4"/><circle cx="555.9" cy="17.6" r="2.1" fill="#9467c4"/><circle cx="557.2" cy="16.9" r="2.1" fill="#9467c4"/><circle cx="560.3" cy="16.8" r="2.1" fill="#9467c4"/><circle cx="562.9" cy="17.0" r="2.1" fill="#9467c4"/><circle cx="565.0" cy="17.4" r="2.1" fill="#9467c4"/><circle cx="563.4" cy="18.4" r="2.1" fill="#9467c4"/><circle cx="563.4" cy="22.3" r="2.1" fill="#9467c4"/><circle cx="562.9" cy="25.7" r="2.1" fill="#9467c4"/><circle cx="562.2" cy="29.0" r="2.1" fill="#9467c4"/><circle cx="562.1" cy="32.1" r="2.1" fill="#9467c4"/><circle cx="561.7" cy="34.7" r="2.1" fill="#9467c4"/><circle cx="561.8" cy="37.5" r="2.1" fill="#9467c4"/><circle cx="561.5" cy="40.0" r="2.1" fill="#9467c4"/><circle cx="560.4" cy="42.4" r="2.1" fill="#9467c4"/><circle cx="560.7" cy="46.1" r="2.1" fill="#9467c4"/><circle cx="560.3" cy="48.3" r="2.1" fill="#9467c4"/><circle cx="558.7" cy="50.6" r="2.1" fill="#9467c4"/><circle cx="558.3" cy="53.8" r="2.1" fill="#9467c4"/><circle cx="557.3" cy="54.9" r="2.1" fill="#9467c4"/><circle cx="556.8" cy="57.4" r="2.1" fill="#9467c4"/><circle cx="557.6" cy="61.9" r="2.1" fill="#9467c4"/><circle cx="557.6" cy="64.5" r="2.1" fill="#9467c4"/><circle cx="554.3" cy="67.9" r="2.1" fill="#9467c4"/><circle cx="553.1" cy="69.3" r="2.1" fill="#9467c4"/><circle cx="552.5" cy="70.8" r="2.1" fill="#9467c4"/><circle cx="552.0" cy="73.2" r="2.1" fill="#9467c4"/><circle cx="550.5" cy="76.0" r="2.1" fill="#9467c4"/><circle cx="549.6" cy="78.4" r="2.1" fill="#9467c4"/><circle cx="546.0" cy="81.4" r="2.1" fill="#9467c4"/><circle cx="546.3" cy="83.9" r="2.1" fill="#9467c4"/><circle cx="546.0" cy="82.5" r="2.1" fill="#9467c4"/><circle cx="543.6" cy="79.7" r="2.1" fill="#9467c4"/><circle cx="540.1" cy="78.5" r="2.1" fill="#9467c4"/><circle cx="536.9" cy="77.4" r="2.1" fill="#9467c4"/><circle cx="535.6" cy="77.7" r="2.1" fill="#9467c4"/><circle cx="532.5" cy="77.3" r="2.1" fill="#9467c4"/><circle cx="530.2" cy="79.1" r="2.1" fill="#9467c4"/><circle cx="527.0" cy="79.1" r="2.1" fill="#9467c4"/><circle cx="526.2" cy="81.0" r="2.1" fill="#9467c4"/><circle cx="525.1" cy="84.3" r="2.1" fill="#9467c4"/><circle cx="525.0" cy="87.7" r="2.1" fill="#9467c4"/><circle cx="525.2" cy="90.6" r="2.1" fill="#9467c4"/><circle cx="525.5" cy="93.7" r="2.1" fill="#9467c4"/><circle cx="526.1" cy="96.5" r="2.1" fill="#9467c4"/><circle cx="525.6" cy="99.9" r="2.1" fill="#9467c4"/><circle cx="522.2" cy="101.4" r="2.1" fill="#9467c4"/><circle cx="521.6" cy="101.5" r="2.1" fill="#9467c4"/><circle cx="519.4" cy="99.2" r="2.1" fill="#9467c4"/><circle cx="519.8" cy="95.0" r="2.1" fill="#9467c4"/><circle cx="519.7" cy="94.0" r="2.1" fill="#9467c4"/><circle cx="519.6" cy="91.2" r="2.1" fill="#9467c4"/><circle cx="519.9" cy="88.8" r="2.1" fill="#9467c4"/><circle cx="519.6" cy="85.9" r="2.1" fill="#9467c4"/><circle cx="519.1" cy="83.6" r="2.1" fill="#9467c4"/><circle cx="521.8" cy="83.0" r="2.1" fill="#9467c4"/><circle cx="522.9" cy="79.6" r="2.1" fill="#9467c4"/><circle cx="521.1" cy="76.4" r="2.1" fill="#9467c4"/><circle cx="519.6" cy="75.4" r="2.1" fill="#9467c4"/><circle cx="514.8" cy="76.5" r="2.1" fill="#9467c4"/><circle cx="512.7" cy="77.9" r="2.1" fill="#9467c4"/><circle cx="510.8" cy="81.0" r="2.1" fill="#9467c4"/><circle cx="509.5" cy="82.9" r="2.1" fill="#9467c4"/><circle cx="507.0" cy="87.5" r="2.1" fill="#9467c4"/><circle cx="505.9" cy="89.9" r="2.1" fill="#9467c4"/><circle cx="505.0" cy="90.6" r="2.1" fill="#9467c4"/><circle cx="500.6" cy="91.0" r="2.1" fill="#9467c4"/><circle cx="499.0" cy="91.3" r="2.1" fill="#9467c4"/><circle cx="496.7" cy="92.3" r="2.1" fill="#9467c4"/><circle cx="497.9" cy="96.0" r="2.1" fill="#9467c4"/><circle cx="497.9" cy="98.4" r="2.1" fill="#9467c4"/><circle cx="499.0" cy="100.1" r="2.1" fill="#9467c4"/><circle cx="499.8" cy="101.8" r="2.1" fill="#9467c4"/><circle cx="500.0" cy="101.6" r="2.1" fill="#9467c4"/><circle cx="497.8" cy="97.7" r="2.1" fill="#9467c4"/><circle cx="495.1" cy="95.7" r="2.1" fill="#9467c4"/><circle cx="492.7" cy="97.0" r="2.1" fill="#9467c4"/><circle cx="492.3" cy="93.4" r="2.1" fill="#9467c4"/><circle cx="493.4" cy="92.3" r="2.1" fill="#9467c4"/><circle cx="493.0" cy="90.2" r="2.1" fill="#9467c4"/><circle cx="492.0" cy="86.6" r="2.1" fill="#9467c4"/><circle cx="492.1" cy="84.9" r="2.1" fill="#9467c4"/><circle cx="495.8" cy="81.2" r="2.1" fill="#9467c4"/><circle cx="497.3" cy="78.8" r="2.1" fill="#9467c4"/><circle cx="495.5" cy="74.0" r="2.1" fill="#9467c4"/><circle cx="493.6" cy="72.0" r="2.1" fill="#9467c4"/><circle cx="494.0" cy="69.0" r="2.1" fill="#9467c4"/><circle cx="493.8" cy="66.5" r="2.1" fill="#9467c4"/><circle cx="494.0" cy="63.6" r="2.1" fill="#9467c4"/><circle cx="493.5" cy="60.4" r="2.1" fill="#9467c4"/><circle cx="493.7" cy="57.2" r="2.1" fill="#9467c4"/><circle cx="494.4" cy="54.5" r="2.1" fill="#9467c4"/><circle cx="495.3" cy="52.2" r="2.1" fill="#9467c4"/><circle cx="494.9" cy="48.5" r="2.1" fill="#9467c4"/><circle cx="495.0" cy="45.5" r="2.1" fill="#9467c4"/><circle cx="491.6" cy="43.1" r="2.1" fill="#9467c4"/><circle cx="490.6" cy="39.9" r="2.1" fill="#9467c4"/><circle cx="491.6" cy="36.2" r="2.1" fill="#9467c4"/><circle cx="492.8" cy="34.6" r="2.1" fill="#9467c4"/><circle cx="496.0" cy="35.3" r="2.1" fill="#9467c4"/><circle cx="497.2" cy="35.0" r="2.1" fill="#9467c4"/><circle cx="501.5" cy="30.6" r="2.1" fill="#9467c4"/><circle cx="501.4" cy="27.9" r="2.1" fill="#9467c4"/><circle cx="500.9" cy="27.2" r="2.1" fill="#9467c4"/><circle cx="500.2" cy="24.2" r="2.1" fill="#9467c4"/><circle cx="496.8" cy="20.0" r="2.1" fill="#9467c4"/><circle cx="496.5" cy="18.0" r="2.1" fill="#9467c4"/><circle cx="567.3" cy="28.9" r="2.1" fill="#9467c4"/><circle cx="494.5" cy="105.2" r="2.1" fill="#9467c4"/><circle cx="493.5" cy="107.0" r="2.1" fill="#9467c4"/><circle cx="493.3" cy="116.6" r="2.1" fill="#9467c4"/><circle cx="493.6" cy="119.0" r="2.1" fill="#9467c4"/><circle cx="493.3" cy="122.2" r="2.1" fill="#9467c4"/><circle cx="494.1" cy="123.5" r="2.1" fill="#9467c4"/><circle cx="520.6" cy="106.6" r="2.1" fill="#9467c4"/><circle cx="544.7" cy="92.4" r="2.1" fill="#9467c4"/><circle cx="545.1" cy="93.0" r="2.1" fill="#9467c4"/><circle cx="531.3" cy="80.7" r="2.1" fill="#9467c4"/><circle cx="516.1" cy="82.4" r="2.1" fill="#9467c4"/></g>
<clipPath id="clip179"><rect x="477.5" y="179.4" width="109.0" height="114.1"/></clipPath><g clip-path="url(#clip179)"><polygon points="502.1,176.0 578.4,176.0 579.0,181.2 580.3,190.0 579.5,196.5 576.5,207.0 578.7,215.0 576.5,223.0 578.5,229.4 571.1,231.6 567.9,236.4 563.1,239.6 558.3,246.1 553.5,247.7 548.7,249.3 545.4,254.1 540.6,252.5 534.2,250.9 527.8,247.7 524.6,252.5 519.8,252.5 516.5,242.8 510.1,239.6 505.3,247.7 497.3,247.7 494.9,246.1 495.7,236.0 498.0,226.0 497.3,215.0 496.5,203.7 494.5,195.7 497.3,190.0 502.1,181.0" fill="#9467c4"/><circle cx="503.1" cy="177.6" r="2.1" fill="#9467c4"/><circle cx="504.7" cy="177.1" r="2.1" fill="#9467c4"/><circle cx="507.5" cy="177.8" r="2.1" fill="#9467c4"/><circle cx="510.0" cy="177.0" r="2.1" fill="#9467c4"/><circle cx="513.1" cy="176.8" r="2.1" fill="#9467c4"/><circle cx="515.9" cy="177.3" r="2.1" fill="#9467c4"/><circle cx="516.8" cy="177.0" r="2.1" fill="#9467c4"/><circle cx="520.8" cy="176.7" r="2.1" fill="#9467c4"/><circle cx="522.3" cy="177.4" r="2.1" fill="#9467c4"/><circle cx="524.5" cy="177.6" r="2.1" fill="#9467c4"/><circle cx="526.9" cy="177.5" r="2.1" fill="#9467c4"/><circle cx="530.1" cy="177.3" r="2.1" fill="#9467c4"/><circle cx="531.6" cy="176.8" r="2.1" fill="#9467c4"/><circle cx="535.5" cy="177.2" r="2.1" fill="#9467c4"/><circle cx="537.6" cy="177.1" r="2.1" fill="#9467c4"/><circle cx="539.7" cy="177.3" r="2.1" fill="#9467c4"/><circle cx="542.5" cy="177.5" r="2.1" fill="#9467c4"/><circle cx="544.5" cy="177.5" r="2.1" fill="#9467c4"/><circle cx="547.0" cy="176.7" r="2.1" fill="#9467c4"/><circle cx="549.4" cy="177.6" r="2.1" fill="#9467c4"/><circle cx="553.1" cy="177.6" r="2.1" fill="#9467c4"/><circle cx="553.9" cy="176.9" r="2.1" fill="#9467c4"/><circle cx="557.2" cy="177.3" r="2.1" fill="#9467c4"/><circle cx="559.4" cy="177.3" r="2.1" fill="#9467c4"/><circle cx="561.6" cy="176.8" r="2.1" fill="#9467c4"/><circle cx="564.7" cy="177.0" r="2.1" fill="#9467c4"/><circle cx="566.0" cy="176.8" r="2.1" fill="#9467c4"/><circle cx="569.5" cy="177.1" r="2.1" fill="#9467c4"/><circle cx="570.7" cy="177.0" r="2.1" fill="#9467c4"/><circle cx="573.3" cy="177.5" r="2.1" fill="#9467c4"/><circle cx="576.5" cy="176.8" r="2.1" fill="#9467c4"/><circle cx="577.6" cy="178.4" r="2.1" fill="#9467c4"/><circle cx="577.5" cy="182.1" r="2.1" fill="#9467c4"/><circle cx="578.2" cy="185.7" r="2.1" fill="#9467c4"/><circle cx="578.5" cy="188.6" r="2.1" fill="#9467c4"/><circle cx="579.2" cy="190.3" r="2.1" fill="#9467c4"/><circle cx="578.4" cy="194.2" r="2.1" fill="#9467c4"/><circle cx="578.4" cy="196.7" r="2.1" fill="#9467c4"/><circle cx="577.4" cy="200.0" r="2.1" fill="#9467c4"/><circle cx="577.1" cy="202.8" r="2.1" fill="#9467c4"/><circle cx="576.4" cy="204.8" r="2.1" fill="#9467c4"/><circle cx="575.3" cy="208.3" r="2.1" fill="#9467c4"/><circle cx="576.7" cy="210.8" r="2.1" fill="#9467c4"/><circle cx="577.1" cy="213.8" r="2.1" fill="#9467c4"/><circle cx="577.3" cy="216.2" r="2.1" fill="#9467c4"/><circle cx="576.7" cy="218.9" r="2.1" fill="#9467c4"/><circle cx="576.0" cy="220.8" r="2.1" fill="#9467c4"/><circle cx="575.6" cy="223.4" r="2.1" fill="#9467c4"/><circle cx="576.5" cy="225.8" r="2.1" fill="#9467c4"/><circle cx="577.5" cy="228.8" r="2.1" fill="#9467c4"/><circle cx="575.4" cy="229.3" r="2.1" fill="#9467c4"/><circle cx="572.5" cy="230.0" r="2.1" fill="#9467c4"/><circle cx="569.6" cy="230.8" r="2.1" fill="#9467c4"/><circle cx="568.2" cy="233.8" r="2.1" fill="#9467c4"/><circle cx="566.2" cy="236.7" r="2.1" fill="#9467c4"/><circle cx="563.5" cy="237.9" r="2.1" fill="#9467c4"/><circle cx="562.7" cy="238.4" r="2.1" fill="#9467c4"/><circle cx="560.2" cy="241.8" r="2.1" fill="#9467c4"/><circle cx="559.0" cy="244.4" r="2.1" fill="#9467c4"/><circle cx="557.5" cy="244.7" r="2.1" fill="#9467c4"/><circle cx="552.7" cy="246.7" r="2.1" fill="#9467c4"/><circle cx="549.9" cy="247.4" r="2.1" fill="#9467c4"/><circle cx="546.9" cy="249.6" r="2.1" fill="#9467c4"/><circle cx="545.9" cy="251.6" r="2.1" fill="#9467c4"/><circle cx="543.1" cy="251.9" r="2.1" fill="#9467c4"/><circle cx="539.9" cy="251.2" r="2.1" fill="#9467c4"/><circle cx="537.5" cy="250.1" r="2.1" fill="#9467c4"/><circle cx="534.3" cy="250.0" r="2.1" fill="#9467c4"/><circle cx="531.6" cy="248.3" r="2.1" fill="#9467c4"/><circle cx="529.6" cy="247.2" r="2.1" fill="#9467c4"/><circle cx="527.2" cy="246.5" r="2.1" fill="#9467c4"/><circle cx="525.5" cy="250.1" r="2.1" fill="#9467c4"/><circle cx="522.4" cy="251.2" r="2.1" fill="#9467c4"/><circle cx="520.4" cy="251.5" r="2.1" fill="#9467c4"/><circle cx="519.6" cy="249.3" r="2.1" fill="#9467c4"/><circle cx="518.5" cy="246.7" r="2.1" fill="#9467c4"/><circle cx="518.0" cy="243.2" r="2.1" fill="#9467c4"/><circle cx="516.3" cy="241.8" r="2.1" fill="#9467c4"/><circle cx="514.0" cy="240.3" r="2.1" fill="#9467c4"/><circle cx="511.8" cy="239.6" r="2.1" fill="#9467c4"/><circle cx="508.7" cy="240.3" r="2.1" fill="#9467c4"/><circle cx="507.7" cy="241.4" r="2.1" fill="#9467c4"/><circle cx="506.3" cy="244.4" r="2.1" fill="#9467c4"/><circle cx="502.3" cy="246.4" r="2.1" fill="#9467c4"/><circle cx="500.6" cy="246.7" r="2.1" fill="#9467c4"/><circle cx="496.8" cy="245.9" r="2.1" fill="#9467c4"/><circle cx="496.3" cy="245.3" r="2.1" fill="#9467c4"/><circle cx="496.7" cy="242.8" r="2.1" fill="#9467c4"/><circle cx="496.8" cy="240.9" r="2.1" fill="#9467c4"/><circle cx="497.3" cy="237.8" r="2.1" fill="#9467c4"/><circle cx="496.7" cy="234.8" r="2.1" fill="#9467c4"/><circle cx="497.6" cy="233.3" r="2.1" fill="#9467c4"/><circle cx="498.0" cy="229.4" r="2.1" fill="#9467c4"/><circle cx="498.8" cy="226.7" r="2.1" fill="#9467c4"/><circle cx="499.4" cy="224.1" r="2.1" fill="#9467c4"/><circle cx="498.4" cy="223.7" r="2.1" fill="#9467c4"/><circle cx="499.0" cy="219.2" r="2.1" fill="#9467c4"/><circle cx="498.7" cy="217.4" r="2.1" fill="#9467c4"/><circle cx="498.6" cy="214.4" r="2.1" fill="#9467c4"/><circle cx="498.4" cy="211.1" r="2.1" fill="#9467c4"/><circle cx="498.3" cy="208.6" r="2.1" fill="#9467c4"/><circle cx="497.5" cy="204.9" r="2.1" fill="#9467c4"/><circle cx="498.2" cy="203.7" r="2.1" fill="#9467c4"/><circle cx="496.5" cy="200.2" r="2.1" fill="#9467c4"/><circle cx="496.7" cy="198.7" r="2.1" fill="#9467c4"/><circle cx="496.7" cy="194.3" r="2.1" fill="#9467c4"/><circle cx="497.1" cy="192.5" r="2.1" fill="#9467c4"/><circle cx="499.2" cy="189.5" r="2.1" fill="#9467c4"/><circle cx="499.6" cy="187.5" r="2.1" fill="#9467c4"/><circle cx="501.7" cy="184.8" r="2.1" fill="#9467c4"/><circle cx="502.4" cy="183.2" r="2.1" fill="#9467c4"/><circle cx="503.0" cy="180.7" r="2.1" fill="#9467c4"/><circle cx="487.6" cy="267.7" r="2.1" fill="#9467c4"/><circle cx="487.3" cy="276.6" r="2.1" fill="#9467c4"/><circle cx="489.2" cy="276.6" r="2.1" fill="#9467c4"/><circle cx="487.2" cy="284.6" r="2.1" fill="#9467c4"/><circle cx="494.1" cy="264.5" r="2.1" fill="#9467c4"/><circle cx="493.7" cy="273.4" r="2.1" fill="#9467c4"/><circle cx="494.9" cy="271.0" r="2.1" fill="#9467c4"/><circle cx="498.6" cy="262.6" r="2.1" fill="#9467c4"/><circle cx="497.3" cy="254.9" r="2.1" fill="#9467c4"/><circle cx="500.5" cy="256.5" r="2.1" fill="#9467c4"/><circle cx="506.6" cy="256.5" r="2.1" fill="#9467c4"/><circle cx="507.4" cy="258.9" r="2.1" fill="#9467c4"/><circle cx="506.1" cy="266.1" r="2.1" fill="#9467c4"/><circle cx="513.3" cy="254.1" r="2.1" fill="#9467c4"/><circle cx="514.6" cy="264.5" r="2.1" fill="#9467c4"/><circle cx="519.0" cy="264.5" r="2.1" fill="#9467c4"/><circle cx="525.1" cy="260.8" r="2.1" fill="#9467c4"/><circle cx="528.6" cy="258.6" r="2.1" fill="#9467c4"/><circle cx="529.9" cy="261.3" r="2.1" fill="#9467c4"/><circle cx="534.5" cy="253.8" r="2.1" fill="#9467c4"/><circle cx="541.9" cy="260.5" r="2.1" fill="#9467c4"/><circle cx="548.7" cy="259.7" r="2.1" fill="#9467c4"/><circle cx="551.9" cy="258.9" r="2.1" fill="#9467c4"/><circle cx="549.9" cy="254.9" r="2.1" fill="#9467c4"/><circle cx="556.2" cy="255.4" r="2.1" fill="#9467c4"/><circle cx="553.8" cy="251.7" r="2.1" fill="#9467c4"/><circle cx="566.0" cy="250.1" r="2.1" fill="#9467c4"/><circle cx="564.7" cy="245.3" r="2.1" fill="#9467c4"/><circle cx="579.2" cy="230.0" r="2.1" fill="#9467c4"/><circle cx="498.0" cy="180.0" r="2.1" fill="#9467c4"/><circle cx="580.8" cy="190.0" r="2.1" fill="#9467c4"/><circle cx="493.8" cy="196.0" r="2.1" fill="#9467c4"/><circle cx="581.0" cy="199.0" r="2.1" fill="#9467c4"/><circle cx="579.5" cy="216.0" r="2.1" fill="#9467c4"/></g>
<clipPath id="clip340"><rect x="477.5" y="340.2" width="109.0" height="114.0"/></clipPath><g clip-path="url(#clip340)"><polygon points="506.2,336.0 590.0,336.0 590.0,367.4 586.9,367.4 583.9,369.1 580.6,372.3 575.7,378.9 570.8,382.1 564.3,385.4 557.8,388.7 551.2,392.0 544.7,392.8 538.1,390.3 530.0,387.1 523.4,385.4 519.3,380.5 518.5,375.6 512.8,377.2 510.3,370.7 509.5,362.5 507.9,354.4 505.4,347.8 506.2,341.3" fill="#9467c4"/><circle cx="506.4" cy="337.2" r="2.1" fill="#9467c4"/><circle cx="509.4" cy="336.9" r="2.1" fill="#9467c4"/><circle cx="511.9" cy="337.8" r="2.1" fill="#9467c4"/><circle cx="513.6" cy="337.8" r="2.1" fill="#9467c4"/><circle cx="517.0" cy="337.3" r="2.1" fill="#9467c4"/><circle cx="518.0" cy="337.2" r="2.1" fill="#9467c4"/><circle cx="520.9" cy="337.2" r="2.1" fill="#9467c4"/><circle cx="523.5" cy="337.1" r="2.1" fill="#9467c4"/><circle cx="526.4" cy="337.2" r="2.1" fill="#9467c4"/><circle cx="528.1" cy="337.7" r="2.1" fill="#9467c4"/><circle cx="531.3" cy="336.8" r="2.1" fill="#9467c4"/><circle cx="533.5" cy="336.7" r="2.1" fill="#9467c4"/><circle cx="536.8" cy="337.7" r="2.1" fill="#9467c4"/><circle cx="539.2" cy="336.7" r="2.1" fill="#9467c4"/><circle cx="540.7" cy="337.7" r="2.1" fill="#9467c4"/><circle cx="545.0" cy="337.6" r="2.1" fill="#9467c4"/><circle cx="546.6" cy="337.5" r="2.1" fill="#9467c4"/><circle cx="548.2" cy="337.2" r="2.1" fill="#9467c4"/><circle cx="551.4" cy="336.7" r="2.1" fill="#9467c4"/><circle cx="552.9" cy="337.1" r="2.1" fill="#9467c4"/><circle cx="555.7" cy="337.7" r="2.1" fill="#9467c4"/><circle cx="559.0" cy="336.9" r="2.1" fill="#9467c4"/><circle cx="560.4" cy="337.5" r="2.1" fill="#9467c4"/><circle cx="562.6" cy="337.7" r="2.1" fill="#9467c4"/><circle cx="565.2" cy="337.1" r="2.1" fill="#9467c4"/><circle cx="567.4" cy="337.0" r="2.1" fill="#9467c4"/><circle cx="570.4" cy="337.7" r="2.1" fill="#9467c4"/><circle cx="572.2" cy="336.7" r="2.1" fill="#9467c4"/><circle cx="575.3" cy="336.7" r="2.1" fill="#9467c4"/><circle cx="578.1" cy="337.1" r="2.1" fill="#9467c4"/><circle cx="581.5" cy="337.1" r="2.1" fill="#9467c4"/><circle cx="583.0" cy="337.1" r="2.1" fill="#9467c4"/><circle cx="584.3" cy="337.2" r="2.1" fill="#9467c4"/><circle cx="586.9" cy="337.7" r="2.1" fill="#9467c4"/><circle cx="589.2" cy="337.2" r="2.1" fill="#9467c4"/><circle cx="589.6" cy="340.4" r="2.1" fill="#9467c4"/><circle cx="589.1" cy="342.4" r="2.1" fill="#9467c4"/><circle cx="589.5" cy="345.9" r="2.1" fill="#9467c4"/><circle cx="589.5" cy="348.0" r="2.1" fill="#9467c4"/><circle cx="589.5" cy="350.3" r="2.1" fill="#9467c4"/><circle cx="589.7" cy="352.7" r="2.1" fill="#9467c4"/><circle cx="589.5" cy="355.6" r="2.1" fill="#9467c4"/><circle cx="589.5" cy="357.3" r="2.1" fill="#9467c4"/><circle cx="588.5" cy="360.8" r="2.1" fill="#9467c4"/><circle cx="589.3" cy="364.1" r="2.1" fill="#9467c4"/><circle cx="589.3" cy="365.6" r="2.1" fill="#9467c4"/><circle cx="587.6" cy="367.1" r="2.1" fill="#9467c4"/><circle cx="586.2" cy="366.9" r="2.1" fill="#9467c4"/><circle cx="582.7" cy="368.4" r="2.1" fill="#9467c4"/><circle cx="581.1" cy="371.0" r="2.1" fill="#9467c4"/><circle cx="579.4" cy="372.9" r="2.1" fill="#9467c4"/><circle cx="577.7" cy="374.4" r="2.1" fill="#9467c4"/><circle cx="575.3" cy="376.7" r="2.1" fill="#9467c4"/><circle cx="574.4" cy="378.9" r="2.1" fill="#9467c4"/><circle cx="571.7" cy="379.7" r="2.1" fill="#9467c4"/><circle cx="569.5" cy="380.7" r="2.1" fill="#9467c4"/><circle cx="567.0" cy="382.1" r="2.1" fill="#9467c4"/><circle cx="564.8" cy="383.0" r="2.1" fill="#9467c4"/><circle cx="562.8" cy="384.8" r="2.1" fill="#9467c4"/><circle cx="560.9" cy="386.5" r="2.1" fill="#9467c4"/><circle cx="558.9" cy="386.2" r="2.1" fill="#9467c4"/><circle cx="556.7" cy="387.8" r="2.1" fill="#9467c4"/><circle cx="553.2" cy="390.1" r="2.1" fill="#9467c4"/><circle cx="550.2" cy="391.4" r="2.1" fill="#9467c4"/><circle cx="546.6" cy="391.5" r="2.1" fill="#9467c4"/><circle cx="544.7" cy="392.0" r="2.1" fill="#9467c4"/><circle cx="541.2" cy="390.6" r="2.1" fill="#9467c4"/><circle cx="538.7" cy="389.4" r="2.1" fill="#9467c4"/><circle cx="535.0" cy="387.8" r="2.1" fill="#9467c4"/><circle cx="533.3" cy="386.9" r="2.1" fill="#9467c4"/><circle cx="528.4" cy="385.5" r="2.1" fill="#9467c4"/><circle cx="527.1" cy="385.5" r="2.1" fill="#9467c4"/><circle cx="523.9" cy="384.4" r="2.1" fill="#9467c4"/><circle cx="521.8" cy="381.7" r="2.1" fill="#9467c4"/><circle cx="520.2" cy="380.3" r="2.1" fill="#9467c4"/><circle cx="519.0" cy="375.4" r="2.1" fill="#9467c4"/><circle cx="518.0" cy="374.4" r="2.1" fill="#9467c4"/><circle cx="515.6" cy="375.0" r="2.1" fill="#9467c4"/><circle cx="513.3" cy="375.7" r="2.1" fill="#9467c4"/><circle cx="512.6" cy="372.7" r="2.1" fill="#9467c4"/><circle cx="511.0" cy="369.1" r="2.1" fill="#9467c4"/><circle cx="510.5" cy="366.5" r="2.1" fill="#9467c4"/><circle cx="510.4" cy="364.4" r="2.1" fill="#9467c4"/><circle cx="510.7" cy="362.0" r="2.1" fill="#9467c4"/><circle cx="510.1" cy="358.9" r="2.1" fill="#9467c4"/><circle cx="508.8" cy="355.9" r="2.1" fill="#9467c4"/><circle cx="508.7" cy="353.6" r="2.1" fill="#9467c4"/><circle cx="507.8" cy="350.1" r="2.1" fill="#9467c4"/><circle cx="506.9" cy="347.3" r="2.1" fill="#9467c4"/><circle cx="507.4" cy="343.5" r="2.1" fill="#9467c4"/><circle cx="507.0" cy="340.5" r="2.1" fill="#9467c4"/><circle cx="492.4" cy="341.3" r="2.1" fill="#9467c4"/><circle cx="503.0" cy="340.5" r="2.1" fill="#9467c4"/><circle cx="504.1" cy="344.5" r="2.1" fill="#9467c4"/><circle cx="504.6" cy="351.9" r="2.1" fill="#9467c4"/><circle cx="500.5" cy="356.0" r="2.1" fill="#9467c4"/><circle cx="499.7" cy="362.5" r="2.1" fill="#9467c4"/><circle cx="505.4" cy="360.9" r="2.1" fill="#9467c4"/><circle cx="498.9" cy="369.1" r="2.1" fill="#9467c4"/><circle cx="500.5" cy="371.5" r="2.1" fill="#9467c4"/><circle cx="503.0" cy="370.7" r="2.1" fill="#9467c4"/><circle cx="505.1" cy="372.3" r="2.1" fill="#9467c4"/><circle cx="505.4" cy="378.1" r="2.1" fill="#9467c4"/><circle cx="496.4" cy="380.5" r="2.1" fill="#9467c4"/><circle cx="495.6" cy="382.1" r="2.1" fill="#9467c4"/><circle cx="497.3" cy="388.7" r="2.1" fill="#9467c4"/><circle cx="502.2" cy="390.3" r="2.1" fill="#9467c4"/><circle cx="506.2" cy="385.4" r="2.1" fill="#9467c4"/><circle cx="508.7" cy="387.1" r="2.1" fill="#9467c4"/><circle cx="515.2" cy="383.8" r="2.1" fill="#9467c4"/><circle cx="503.0" cy="395.2" r="2.1" fill="#9467c4"/><circle cx="498.1" cy="395.2" r="2.1" fill="#9467c4"/><circle cx="522.6" cy="396.9" r="2.1" fill="#9467c4"/><circle cx="533.2" cy="396.0" r="2.1" fill="#9467c4"/><circle cx="562.7" cy="394.4" r="2.1" fill="#9467c4"/><circle cx="572.5" cy="393.6" r="2.1" fill="#9467c4"/><circle cx="579.8" cy="389.5" r="2.1" fill="#9467c4"/><circle cx="580.6" cy="372.3" r="2.1" fill="#9467c4"/><circle cx="497.3" cy="390.0" r="2.1" fill="#9467c4"/><circle cx="503.0" cy="391.6" r="2.1" fill="#9467c4"/><circle cx="503.8" cy="394.9" r="2.1" fill="#9467c4"/><circle cx="498.6" cy="395.7" r="2.1" fill="#9467c4"/><circle cx="494.3" cy="399.3" r="2.1" fill="#9467c4"/><circle cx="494.8" cy="404.7" r="2.1" fill="#9467c4"/><circle cx="495.6" cy="404.7" r="2.1" fill="#9467c4"/><circle cx="511.2" cy="405.5" r="2.1" fill="#9467c4"/><circle cx="493.2" cy="414.5" r="2.1" fill="#9467c4"/><circle cx="494.3" cy="414.2" r="2.1" fill="#9467c4"/><circle cx="504.6" cy="412.4" r="2.1" fill="#9467c4"/><circle cx="487.1" cy="422.7" r="2.1" fill="#9467c4"/><circle cx="498.4" cy="423.2" r="2.1" fill="#9467c4"/><circle cx="487.1" cy="430.2" r="2.1" fill="#9467c4"/><circle cx="491.5" cy="438.7" r="2.1" fill="#9467c4"/><circle cx="484.5" cy="444.0" r="2.1" fill="#9467c4"/><circle cx="522.6" cy="397.7" r="2.1" fill="#9467c4"/><circle cx="521.8" cy="398.2" r="2.1" fill="#9467c4"/><circle cx="528.3" cy="401.4" r="2.1" fill="#9467c4"/><circle cx="531.6" cy="401.4" r="2.1" fill="#9467c4"/><circle cx="533.2" cy="396.5" r="2.1" fill="#9467c4"/><circle cx="528.3" cy="406.4" r="2.1" fill="#9467c4"/><circle cx="536.8" cy="408.0" r="2.1" fill="#9467c4"/><circle cx="536.5" cy="416.7" r="2.1" fill="#9467c4"/><circle cx="543.0" cy="401.4" r="2.1" fill="#9467c4"/><circle cx="543.4" cy="403.1" r="2.1" fill="#9467c4"/><circle cx="549.6" cy="397.4" r="2.1" fill="#9467c4"/><circle cx="555.8" cy="399.5" r="2.1" fill="#9467c4"/><circle cx="562.7" cy="394.9" r="2.1" fill="#9467c4"/><circle cx="568.4" cy="402.6" r="2.1" fill="#9467c4"/><circle cx="573.0" cy="393.8" r="2.1" fill="#9467c4"/><circle cx="580.2" cy="390.0" r="2.1" fill="#9467c4"/></g></svg>
</body></html>
